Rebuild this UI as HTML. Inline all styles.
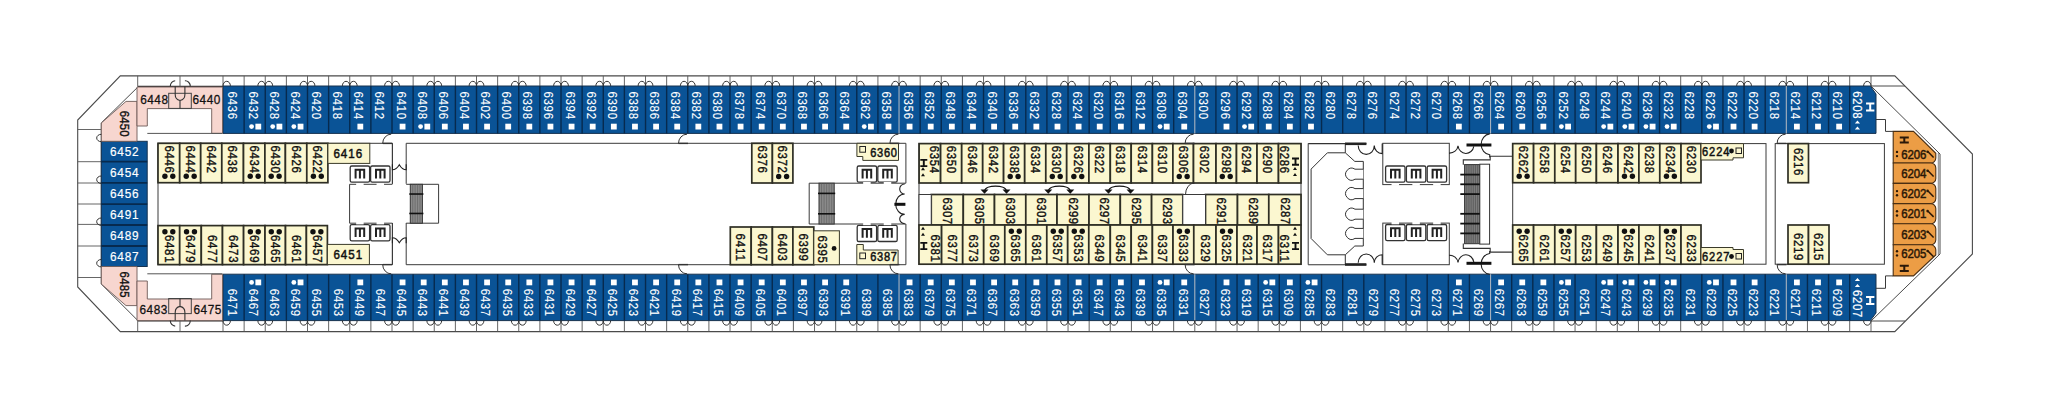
<!DOCTYPE html>
<html><head><meta charset="utf-8"><style>
html,body{margin:0;padding:0;background:#fff;}
svg{display:block;font-family:"Liberation Sans",sans-serif;}
</style></head><body>
<svg width="2048" height="409" viewBox="0 0 2048 409">
<rect width="2048" height="409" fill="#fff"/>
<polygon points="120.3,75.9 1894.8,75.9 1972.4,154 1972.4,254 1894.8,331.6 120.3,331.6 77.7,287 77.7,120" fill="none" stroke="#4a4a4a" stroke-width="1.1"/>
<line x1="223.00" y1="75.90" x2="223.00" y2="86.00" stroke="#555" stroke-width="0.9"/>
<line x1="244.13" y1="75.90" x2="244.13" y2="86.00" stroke="#555" stroke-width="0.9"/>
<line x1="265.25" y1="75.90" x2="265.25" y2="86.00" stroke="#555" stroke-width="0.9"/>
<line x1="286.38" y1="75.90" x2="286.38" y2="86.00" stroke="#555" stroke-width="0.9"/>
<line x1="307.50" y1="75.90" x2="307.50" y2="86.00" stroke="#555" stroke-width="0.9"/>
<line x1="328.63" y1="75.90" x2="328.63" y2="86.00" stroke="#555" stroke-width="0.9"/>
<line x1="349.76" y1="75.90" x2="349.76" y2="86.00" stroke="#555" stroke-width="0.9"/>
<line x1="370.88" y1="75.90" x2="370.88" y2="86.00" stroke="#555" stroke-width="0.9"/>
<line x1="392.01" y1="75.90" x2="392.01" y2="86.00" stroke="#555" stroke-width="0.9"/>
<line x1="413.13" y1="75.90" x2="413.13" y2="86.00" stroke="#555" stroke-width="0.9"/>
<line x1="434.26" y1="75.90" x2="434.26" y2="86.00" stroke="#555" stroke-width="0.9"/>
<line x1="455.39" y1="75.90" x2="455.39" y2="86.00" stroke="#555" stroke-width="0.9"/>
<line x1="476.51" y1="75.90" x2="476.51" y2="86.00" stroke="#555" stroke-width="0.9"/>
<line x1="497.64" y1="75.90" x2="497.64" y2="86.00" stroke="#555" stroke-width="0.9"/>
<line x1="518.76" y1="75.90" x2="518.76" y2="86.00" stroke="#555" stroke-width="0.9"/>
<line x1="539.89" y1="75.90" x2="539.89" y2="86.00" stroke="#555" stroke-width="0.9"/>
<line x1="561.02" y1="75.90" x2="561.02" y2="86.00" stroke="#555" stroke-width="0.9"/>
<line x1="582.14" y1="75.90" x2="582.14" y2="86.00" stroke="#555" stroke-width="0.9"/>
<line x1="603.27" y1="75.90" x2="603.27" y2="86.00" stroke="#555" stroke-width="0.9"/>
<line x1="624.39" y1="75.90" x2="624.39" y2="86.00" stroke="#555" stroke-width="0.9"/>
<line x1="645.52" y1="75.90" x2="645.52" y2="86.00" stroke="#555" stroke-width="0.9"/>
<line x1="666.65" y1="75.90" x2="666.65" y2="86.00" stroke="#555" stroke-width="0.9"/>
<line x1="687.77" y1="75.90" x2="687.77" y2="86.00" stroke="#555" stroke-width="0.9"/>
<line x1="708.90" y1="75.90" x2="708.90" y2="86.00" stroke="#555" stroke-width="0.9"/>
<line x1="730.02" y1="75.90" x2="730.02" y2="86.00" stroke="#555" stroke-width="0.9"/>
<line x1="751.15" y1="75.90" x2="751.15" y2="86.00" stroke="#555" stroke-width="0.9"/>
<line x1="772.28" y1="75.90" x2="772.28" y2="86.00" stroke="#555" stroke-width="0.9"/>
<line x1="793.40" y1="75.90" x2="793.40" y2="86.00" stroke="#555" stroke-width="0.9"/>
<line x1="814.53" y1="75.90" x2="814.53" y2="86.00" stroke="#555" stroke-width="0.9"/>
<line x1="835.65" y1="75.90" x2="835.65" y2="86.00" stroke="#555" stroke-width="0.9"/>
<line x1="856.78" y1="75.90" x2="856.78" y2="86.00" stroke="#555" stroke-width="0.9"/>
<line x1="877.91" y1="75.90" x2="877.91" y2="86.00" stroke="#555" stroke-width="0.9"/>
<line x1="899.03" y1="75.90" x2="899.03" y2="86.00" stroke="#555" stroke-width="0.9"/>
<line x1="920.16" y1="75.90" x2="920.16" y2="86.00" stroke="#555" stroke-width="0.9"/>
<line x1="941.28" y1="75.90" x2="941.28" y2="86.00" stroke="#555" stroke-width="0.9"/>
<line x1="962.41" y1="75.90" x2="962.41" y2="86.00" stroke="#555" stroke-width="0.9"/>
<line x1="983.54" y1="75.90" x2="983.54" y2="86.00" stroke="#555" stroke-width="0.9"/>
<line x1="1004.66" y1="75.90" x2="1004.66" y2="86.00" stroke="#555" stroke-width="0.9"/>
<line x1="1025.79" y1="75.90" x2="1025.79" y2="86.00" stroke="#555" stroke-width="0.9"/>
<line x1="1046.91" y1="75.90" x2="1046.91" y2="86.00" stroke="#555" stroke-width="0.9"/>
<line x1="1068.04" y1="75.90" x2="1068.04" y2="86.00" stroke="#555" stroke-width="0.9"/>
<line x1="1089.16" y1="75.90" x2="1089.16" y2="86.00" stroke="#555" stroke-width="0.9"/>
<line x1="1110.29" y1="75.90" x2="1110.29" y2="86.00" stroke="#555" stroke-width="0.9"/>
<line x1="1131.42" y1="75.90" x2="1131.42" y2="86.00" stroke="#555" stroke-width="0.9"/>
<line x1="1152.54" y1="75.90" x2="1152.54" y2="86.00" stroke="#555" stroke-width="0.9"/>
<line x1="1173.67" y1="75.90" x2="1173.67" y2="86.00" stroke="#555" stroke-width="0.9"/>
<line x1="1194.79" y1="75.90" x2="1194.79" y2="86.00" stroke="#555" stroke-width="0.9"/>
<line x1="1215.92" y1="75.90" x2="1215.92" y2="86.00" stroke="#555" stroke-width="0.9"/>
<line x1="1237.05" y1="75.90" x2="1237.05" y2="86.00" stroke="#555" stroke-width="0.9"/>
<line x1="1258.17" y1="75.90" x2="1258.17" y2="86.00" stroke="#555" stroke-width="0.9"/>
<line x1="1279.30" y1="75.90" x2="1279.30" y2="86.00" stroke="#555" stroke-width="0.9"/>
<line x1="1300.42" y1="75.90" x2="1300.42" y2="86.00" stroke="#555" stroke-width="0.9"/>
<line x1="1321.55" y1="75.90" x2="1321.55" y2="86.00" stroke="#555" stroke-width="0.9"/>
<line x1="1342.68" y1="75.90" x2="1342.68" y2="86.00" stroke="#555" stroke-width="0.9"/>
<line x1="1363.80" y1="75.90" x2="1363.80" y2="86.00" stroke="#555" stroke-width="0.9"/>
<line x1="1384.93" y1="75.90" x2="1384.93" y2="86.00" stroke="#555" stroke-width="0.9"/>
<line x1="1406.05" y1="75.90" x2="1406.05" y2="86.00" stroke="#555" stroke-width="0.9"/>
<line x1="1427.18" y1="75.90" x2="1427.18" y2="86.00" stroke="#555" stroke-width="0.9"/>
<line x1="1448.31" y1="75.90" x2="1448.31" y2="86.00" stroke="#555" stroke-width="0.9"/>
<line x1="1469.43" y1="75.90" x2="1469.43" y2="86.00" stroke="#555" stroke-width="0.9"/>
<line x1="1490.56" y1="75.90" x2="1490.56" y2="86.00" stroke="#555" stroke-width="0.9"/>
<line x1="1511.68" y1="75.90" x2="1511.68" y2="86.00" stroke="#555" stroke-width="0.9"/>
<line x1="1532.81" y1="75.90" x2="1532.81" y2="86.00" stroke="#555" stroke-width="0.9"/>
<line x1="1553.94" y1="75.90" x2="1553.94" y2="86.00" stroke="#555" stroke-width="0.9"/>
<line x1="1575.06" y1="75.90" x2="1575.06" y2="86.00" stroke="#555" stroke-width="0.9"/>
<line x1="1596.19" y1="75.90" x2="1596.19" y2="86.00" stroke="#555" stroke-width="0.9"/>
<line x1="1617.31" y1="75.90" x2="1617.31" y2="86.00" stroke="#555" stroke-width="0.9"/>
<line x1="1638.44" y1="75.90" x2="1638.44" y2="86.00" stroke="#555" stroke-width="0.9"/>
<line x1="1659.57" y1="75.90" x2="1659.57" y2="86.00" stroke="#555" stroke-width="0.9"/>
<line x1="1680.69" y1="75.90" x2="1680.69" y2="86.00" stroke="#555" stroke-width="0.9"/>
<line x1="1701.82" y1="75.90" x2="1701.82" y2="86.00" stroke="#555" stroke-width="0.9"/>
<line x1="1722.94" y1="75.90" x2="1722.94" y2="86.00" stroke="#555" stroke-width="0.9"/>
<line x1="1744.07" y1="75.90" x2="1744.07" y2="86.00" stroke="#555" stroke-width="0.9"/>
<line x1="1765.20" y1="75.90" x2="1765.20" y2="86.00" stroke="#555" stroke-width="0.9"/>
<line x1="1786.32" y1="75.90" x2="1786.32" y2="86.00" stroke="#555" stroke-width="0.9"/>
<line x1="1807.45" y1="75.90" x2="1807.45" y2="86.00" stroke="#555" stroke-width="0.9"/>
<line x1="1828.57" y1="75.90" x2="1828.57" y2="86.00" stroke="#555" stroke-width="0.9"/>
<line x1="1849.70" y1="75.90" x2="1849.70" y2="86.00" stroke="#555" stroke-width="0.9"/>
<line x1="1871.00" y1="75.90" x2="1871.00" y2="86.00" stroke="#555" stroke-width="0.9"/>
<line x1="1871.00" y1="321.00" x2="1871.00" y2="331.60" stroke="#555" stroke-width="0.9"/>
<line x1="223.00" y1="320.60" x2="223.00" y2="331.60" stroke="#555" stroke-width="0.9"/>
<line x1="244.13" y1="320.60" x2="244.13" y2="331.60" stroke="#555" stroke-width="0.9"/>
<line x1="265.25" y1="320.60" x2="265.25" y2="331.60" stroke="#555" stroke-width="0.9"/>
<line x1="286.38" y1="320.60" x2="286.38" y2="331.60" stroke="#555" stroke-width="0.9"/>
<line x1="307.50" y1="320.60" x2="307.50" y2="331.60" stroke="#555" stroke-width="0.9"/>
<line x1="328.63" y1="320.60" x2="328.63" y2="331.60" stroke="#555" stroke-width="0.9"/>
<line x1="349.76" y1="320.60" x2="349.76" y2="331.60" stroke="#555" stroke-width="0.9"/>
<line x1="370.88" y1="320.60" x2="370.88" y2="331.60" stroke="#555" stroke-width="0.9"/>
<line x1="392.01" y1="320.60" x2="392.01" y2="331.60" stroke="#555" stroke-width="0.9"/>
<line x1="413.13" y1="320.60" x2="413.13" y2="331.60" stroke="#555" stroke-width="0.9"/>
<line x1="434.26" y1="320.60" x2="434.26" y2="331.60" stroke="#555" stroke-width="0.9"/>
<line x1="455.39" y1="320.60" x2="455.39" y2="331.60" stroke="#555" stroke-width="0.9"/>
<line x1="476.51" y1="320.60" x2="476.51" y2="331.60" stroke="#555" stroke-width="0.9"/>
<line x1="497.64" y1="320.60" x2="497.64" y2="331.60" stroke="#555" stroke-width="0.9"/>
<line x1="518.76" y1="320.60" x2="518.76" y2="331.60" stroke="#555" stroke-width="0.9"/>
<line x1="539.89" y1="320.60" x2="539.89" y2="331.60" stroke="#555" stroke-width="0.9"/>
<line x1="561.02" y1="320.60" x2="561.02" y2="331.60" stroke="#555" stroke-width="0.9"/>
<line x1="582.14" y1="320.60" x2="582.14" y2="331.60" stroke="#555" stroke-width="0.9"/>
<line x1="603.27" y1="320.60" x2="603.27" y2="331.60" stroke="#555" stroke-width="0.9"/>
<line x1="624.39" y1="320.60" x2="624.39" y2="331.60" stroke="#555" stroke-width="0.9"/>
<line x1="645.52" y1="320.60" x2="645.52" y2="331.60" stroke="#555" stroke-width="0.9"/>
<line x1="666.65" y1="320.60" x2="666.65" y2="331.60" stroke="#555" stroke-width="0.9"/>
<line x1="687.77" y1="320.60" x2="687.77" y2="331.60" stroke="#555" stroke-width="0.9"/>
<line x1="708.90" y1="320.60" x2="708.90" y2="331.60" stroke="#555" stroke-width="0.9"/>
<line x1="730.02" y1="320.60" x2="730.02" y2="331.60" stroke="#555" stroke-width="0.9"/>
<line x1="751.15" y1="320.60" x2="751.15" y2="331.60" stroke="#555" stroke-width="0.9"/>
<line x1="772.28" y1="320.60" x2="772.28" y2="331.60" stroke="#555" stroke-width="0.9"/>
<line x1="793.40" y1="320.60" x2="793.40" y2="331.60" stroke="#555" stroke-width="0.9"/>
<line x1="814.53" y1="320.60" x2="814.53" y2="331.60" stroke="#555" stroke-width="0.9"/>
<line x1="835.65" y1="320.60" x2="835.65" y2="331.60" stroke="#555" stroke-width="0.9"/>
<line x1="856.78" y1="320.60" x2="856.78" y2="331.60" stroke="#555" stroke-width="0.9"/>
<line x1="877.91" y1="320.60" x2="877.91" y2="331.60" stroke="#555" stroke-width="0.9"/>
<line x1="899.03" y1="320.60" x2="899.03" y2="331.60" stroke="#555" stroke-width="0.9"/>
<line x1="920.16" y1="320.60" x2="920.16" y2="331.60" stroke="#555" stroke-width="0.9"/>
<line x1="941.28" y1="320.60" x2="941.28" y2="331.60" stroke="#555" stroke-width="0.9"/>
<line x1="962.41" y1="320.60" x2="962.41" y2="331.60" stroke="#555" stroke-width="0.9"/>
<line x1="983.54" y1="320.60" x2="983.54" y2="331.60" stroke="#555" stroke-width="0.9"/>
<line x1="1004.66" y1="320.60" x2="1004.66" y2="331.60" stroke="#555" stroke-width="0.9"/>
<line x1="1025.79" y1="320.60" x2="1025.79" y2="331.60" stroke="#555" stroke-width="0.9"/>
<line x1="1046.91" y1="320.60" x2="1046.91" y2="331.60" stroke="#555" stroke-width="0.9"/>
<line x1="1068.04" y1="320.60" x2="1068.04" y2="331.60" stroke="#555" stroke-width="0.9"/>
<line x1="1089.16" y1="320.60" x2="1089.16" y2="331.60" stroke="#555" stroke-width="0.9"/>
<line x1="1110.29" y1="320.60" x2="1110.29" y2="331.60" stroke="#555" stroke-width="0.9"/>
<line x1="1131.42" y1="320.60" x2="1131.42" y2="331.60" stroke="#555" stroke-width="0.9"/>
<line x1="1152.54" y1="320.60" x2="1152.54" y2="331.60" stroke="#555" stroke-width="0.9"/>
<line x1="1173.67" y1="320.60" x2="1173.67" y2="331.60" stroke="#555" stroke-width="0.9"/>
<line x1="1194.79" y1="320.60" x2="1194.79" y2="331.60" stroke="#555" stroke-width="0.9"/>
<line x1="1215.92" y1="320.60" x2="1215.92" y2="331.60" stroke="#555" stroke-width="0.9"/>
<line x1="1237.05" y1="320.60" x2="1237.05" y2="331.60" stroke="#555" stroke-width="0.9"/>
<line x1="1258.17" y1="320.60" x2="1258.17" y2="331.60" stroke="#555" stroke-width="0.9"/>
<line x1="1279.30" y1="320.60" x2="1279.30" y2="331.60" stroke="#555" stroke-width="0.9"/>
<line x1="1300.42" y1="320.60" x2="1300.42" y2="331.60" stroke="#555" stroke-width="0.9"/>
<line x1="1321.55" y1="320.60" x2="1321.55" y2="331.60" stroke="#555" stroke-width="0.9"/>
<line x1="1342.68" y1="320.60" x2="1342.68" y2="331.60" stroke="#555" stroke-width="0.9"/>
<line x1="1363.80" y1="320.60" x2="1363.80" y2="331.60" stroke="#555" stroke-width="0.9"/>
<line x1="1384.93" y1="320.60" x2="1384.93" y2="331.60" stroke="#555" stroke-width="0.9"/>
<line x1="1406.05" y1="320.60" x2="1406.05" y2="331.60" stroke="#555" stroke-width="0.9"/>
<line x1="1427.18" y1="320.60" x2="1427.18" y2="331.60" stroke="#555" stroke-width="0.9"/>
<line x1="1448.31" y1="320.60" x2="1448.31" y2="331.60" stroke="#555" stroke-width="0.9"/>
<line x1="1469.43" y1="320.60" x2="1469.43" y2="331.60" stroke="#555" stroke-width="0.9"/>
<line x1="1490.56" y1="320.60" x2="1490.56" y2="331.60" stroke="#555" stroke-width="0.9"/>
<line x1="1511.68" y1="320.60" x2="1511.68" y2="331.60" stroke="#555" stroke-width="0.9"/>
<line x1="1532.81" y1="320.60" x2="1532.81" y2="331.60" stroke="#555" stroke-width="0.9"/>
<line x1="1553.94" y1="320.60" x2="1553.94" y2="331.60" stroke="#555" stroke-width="0.9"/>
<line x1="1575.06" y1="320.60" x2="1575.06" y2="331.60" stroke="#555" stroke-width="0.9"/>
<line x1="1596.19" y1="320.60" x2="1596.19" y2="331.60" stroke="#555" stroke-width="0.9"/>
<line x1="1617.31" y1="320.60" x2="1617.31" y2="331.60" stroke="#555" stroke-width="0.9"/>
<line x1="1638.44" y1="320.60" x2="1638.44" y2="331.60" stroke="#555" stroke-width="0.9"/>
<line x1="1659.57" y1="320.60" x2="1659.57" y2="331.60" stroke="#555" stroke-width="0.9"/>
<line x1="1680.69" y1="320.60" x2="1680.69" y2="331.60" stroke="#555" stroke-width="0.9"/>
<line x1="1701.82" y1="320.60" x2="1701.82" y2="331.60" stroke="#555" stroke-width="0.9"/>
<line x1="1722.94" y1="320.60" x2="1722.94" y2="331.60" stroke="#555" stroke-width="0.9"/>
<line x1="1744.07" y1="320.60" x2="1744.07" y2="331.60" stroke="#555" stroke-width="0.9"/>
<line x1="1765.20" y1="320.60" x2="1765.20" y2="331.60" stroke="#555" stroke-width="0.9"/>
<line x1="1786.32" y1="320.60" x2="1786.32" y2="331.60" stroke="#555" stroke-width="0.9"/>
<line x1="1807.45" y1="320.60" x2="1807.45" y2="331.60" stroke="#555" stroke-width="0.9"/>
<line x1="1828.57" y1="320.60" x2="1828.57" y2="331.60" stroke="#555" stroke-width="0.9"/>
<line x1="1849.70" y1="320.60" x2="1849.70" y2="331.60" stroke="#555" stroke-width="0.9"/>
<polygon points="223.00,86.00 1870.40,86.00 1876.00,94.00 1876.00,133.40 223.00,133.40" fill="#0a5396" stroke="#17324f" stroke-width="1"/>
<polygon points="223.00,274.20 1876.00,274.20 1876.00,313.00 1870.40,320.60 223.00,320.60" fill="#0a5396" stroke="#17324f" stroke-width="1"/>
<line x1="244.13" y1="86.00" x2="244.13" y2="133.40" stroke="#072a4e" stroke-width="1.4"/>
<line x1="244.13" y1="274.20" x2="244.13" y2="320.60" stroke="#072a4e" stroke-width="1.4"/>
<line x1="265.25" y1="86.00" x2="265.25" y2="133.40" stroke="#072a4e" stroke-width="1.4"/>
<line x1="265.25" y1="274.20" x2="265.25" y2="320.60" stroke="#072a4e" stroke-width="1.4"/>
<line x1="286.38" y1="86.00" x2="286.38" y2="133.40" stroke="#072a4e" stroke-width="1.4"/>
<line x1="286.38" y1="274.20" x2="286.38" y2="320.60" stroke="#072a4e" stroke-width="1.4"/>
<line x1="307.50" y1="86.00" x2="307.50" y2="133.40" stroke="#072a4e" stroke-width="1.4"/>
<line x1="307.50" y1="274.20" x2="307.50" y2="320.60" stroke="#072a4e" stroke-width="1.4"/>
<line x1="328.63" y1="86.00" x2="328.63" y2="133.40" stroke="#072a4e" stroke-width="1.4"/>
<line x1="328.63" y1="274.20" x2="328.63" y2="320.60" stroke="#072a4e" stroke-width="1.4"/>
<line x1="349.76" y1="86.00" x2="349.76" y2="133.40" stroke="#072a4e" stroke-width="1.4"/>
<line x1="349.76" y1="274.20" x2="349.76" y2="320.60" stroke="#072a4e" stroke-width="1.4"/>
<line x1="370.88" y1="86.00" x2="370.88" y2="133.40" stroke="#072a4e" stroke-width="1.4"/>
<line x1="370.88" y1="274.20" x2="370.88" y2="320.60" stroke="#072a4e" stroke-width="1.4"/>
<line x1="392.01" y1="86.00" x2="392.01" y2="133.40" stroke="#072a4e" stroke-width="1.4"/>
<line x1="392.01" y1="274.20" x2="392.01" y2="320.60" stroke="#072a4e" stroke-width="1.4"/>
<line x1="413.13" y1="86.00" x2="413.13" y2="133.40" stroke="#072a4e" stroke-width="1.4"/>
<line x1="413.13" y1="274.20" x2="413.13" y2="320.60" stroke="#072a4e" stroke-width="1.4"/>
<line x1="434.26" y1="86.00" x2="434.26" y2="133.40" stroke="#072a4e" stroke-width="1.4"/>
<line x1="434.26" y1="274.20" x2="434.26" y2="320.60" stroke="#072a4e" stroke-width="1.4"/>
<line x1="455.39" y1="86.00" x2="455.39" y2="133.40" stroke="#072a4e" stroke-width="1.4"/>
<line x1="455.39" y1="274.20" x2="455.39" y2="320.60" stroke="#072a4e" stroke-width="1.4"/>
<line x1="476.51" y1="86.00" x2="476.51" y2="133.40" stroke="#072a4e" stroke-width="1.4"/>
<line x1="476.51" y1="274.20" x2="476.51" y2="320.60" stroke="#072a4e" stroke-width="1.4"/>
<line x1="497.64" y1="86.00" x2="497.64" y2="133.40" stroke="#072a4e" stroke-width="1.4"/>
<line x1="497.64" y1="274.20" x2="497.64" y2="320.60" stroke="#072a4e" stroke-width="1.4"/>
<line x1="518.76" y1="86.00" x2="518.76" y2="133.40" stroke="#072a4e" stroke-width="1.4"/>
<line x1="518.76" y1="274.20" x2="518.76" y2="320.60" stroke="#072a4e" stroke-width="1.4"/>
<line x1="539.89" y1="86.00" x2="539.89" y2="133.40" stroke="#072a4e" stroke-width="1.4"/>
<line x1="539.89" y1="274.20" x2="539.89" y2="320.60" stroke="#072a4e" stroke-width="1.4"/>
<line x1="561.02" y1="86.00" x2="561.02" y2="133.40" stroke="#072a4e" stroke-width="1.4"/>
<line x1="561.02" y1="274.20" x2="561.02" y2="320.60" stroke="#072a4e" stroke-width="1.4"/>
<line x1="582.14" y1="86.00" x2="582.14" y2="133.40" stroke="#072a4e" stroke-width="1.4"/>
<line x1="582.14" y1="274.20" x2="582.14" y2="320.60" stroke="#072a4e" stroke-width="1.4"/>
<line x1="603.27" y1="86.00" x2="603.27" y2="133.40" stroke="#072a4e" stroke-width="1.4"/>
<line x1="603.27" y1="274.20" x2="603.27" y2="320.60" stroke="#072a4e" stroke-width="1.4"/>
<line x1="624.39" y1="86.00" x2="624.39" y2="133.40" stroke="#072a4e" stroke-width="1.4"/>
<line x1="624.39" y1="274.20" x2="624.39" y2="320.60" stroke="#072a4e" stroke-width="1.4"/>
<line x1="645.52" y1="86.00" x2="645.52" y2="133.40" stroke="#072a4e" stroke-width="1.4"/>
<line x1="645.52" y1="274.20" x2="645.52" y2="320.60" stroke="#072a4e" stroke-width="1.4"/>
<line x1="666.65" y1="86.00" x2="666.65" y2="133.40" stroke="#072a4e" stroke-width="1.4"/>
<line x1="666.65" y1="274.20" x2="666.65" y2="320.60" stroke="#072a4e" stroke-width="1.4"/>
<line x1="687.77" y1="86.00" x2="687.77" y2="133.40" stroke="#072a4e" stroke-width="1.4"/>
<line x1="687.77" y1="274.20" x2="687.77" y2="320.60" stroke="#072a4e" stroke-width="1.4"/>
<line x1="708.90" y1="86.00" x2="708.90" y2="133.40" stroke="#072a4e" stroke-width="1.4"/>
<line x1="708.90" y1="274.20" x2="708.90" y2="320.60" stroke="#072a4e" stroke-width="1.4"/>
<line x1="730.02" y1="86.00" x2="730.02" y2="133.40" stroke="#072a4e" stroke-width="1.4"/>
<line x1="730.02" y1="274.20" x2="730.02" y2="320.60" stroke="#072a4e" stroke-width="1.4"/>
<line x1="751.15" y1="86.00" x2="751.15" y2="133.40" stroke="#072a4e" stroke-width="1.4"/>
<line x1="751.15" y1="274.20" x2="751.15" y2="320.60" stroke="#072a4e" stroke-width="1.4"/>
<line x1="772.28" y1="86.00" x2="772.28" y2="133.40" stroke="#072a4e" stroke-width="1.4"/>
<line x1="772.28" y1="274.20" x2="772.28" y2="320.60" stroke="#072a4e" stroke-width="1.4"/>
<line x1="793.40" y1="86.00" x2="793.40" y2="133.40" stroke="#072a4e" stroke-width="1.4"/>
<line x1="793.40" y1="274.20" x2="793.40" y2="320.60" stroke="#072a4e" stroke-width="1.4"/>
<line x1="814.53" y1="86.00" x2="814.53" y2="133.40" stroke="#072a4e" stroke-width="1.4"/>
<line x1="814.53" y1="274.20" x2="814.53" y2="320.60" stroke="#072a4e" stroke-width="1.4"/>
<line x1="835.65" y1="86.00" x2="835.65" y2="133.40" stroke="#072a4e" stroke-width="1.4"/>
<line x1="835.65" y1="274.20" x2="835.65" y2="320.60" stroke="#072a4e" stroke-width="1.4"/>
<line x1="856.78" y1="86.00" x2="856.78" y2="133.40" stroke="#072a4e" stroke-width="1.4"/>
<line x1="856.78" y1="274.20" x2="856.78" y2="320.60" stroke="#072a4e" stroke-width="1.4"/>
<line x1="877.91" y1="86.00" x2="877.91" y2="133.40" stroke="#072a4e" stroke-width="1.4"/>
<line x1="877.91" y1="274.20" x2="877.91" y2="320.60" stroke="#072a4e" stroke-width="1.4"/>
<line x1="899.03" y1="86.00" x2="899.03" y2="133.40" stroke="#a9b3bf" stroke-width="1.1"/>
<line x1="899.03" y1="274.20" x2="899.03" y2="320.60" stroke="#a9b3bf" stroke-width="1.1"/>
<line x1="920.16" y1="86.00" x2="920.16" y2="133.40" stroke="#072a4e" stroke-width="1.4"/>
<line x1="920.16" y1="274.20" x2="920.16" y2="320.60" stroke="#072a4e" stroke-width="1.4"/>
<line x1="941.28" y1="86.00" x2="941.28" y2="133.40" stroke="#072a4e" stroke-width="1.4"/>
<line x1="941.28" y1="274.20" x2="941.28" y2="320.60" stroke="#072a4e" stroke-width="1.4"/>
<line x1="962.41" y1="86.00" x2="962.41" y2="133.40" stroke="#072a4e" stroke-width="1.4"/>
<line x1="962.41" y1="274.20" x2="962.41" y2="320.60" stroke="#072a4e" stroke-width="1.4"/>
<line x1="983.54" y1="86.00" x2="983.54" y2="133.40" stroke="#072a4e" stroke-width="1.4"/>
<line x1="983.54" y1="274.20" x2="983.54" y2="320.60" stroke="#072a4e" stroke-width="1.4"/>
<line x1="1004.66" y1="86.00" x2="1004.66" y2="133.40" stroke="#072a4e" stroke-width="1.4"/>
<line x1="1004.66" y1="274.20" x2="1004.66" y2="320.60" stroke="#072a4e" stroke-width="1.4"/>
<line x1="1025.79" y1="86.00" x2="1025.79" y2="133.40" stroke="#072a4e" stroke-width="1.4"/>
<line x1="1025.79" y1="274.20" x2="1025.79" y2="320.60" stroke="#072a4e" stroke-width="1.4"/>
<line x1="1046.91" y1="86.00" x2="1046.91" y2="133.40" stroke="#072a4e" stroke-width="1.4"/>
<line x1="1046.91" y1="274.20" x2="1046.91" y2="320.60" stroke="#072a4e" stroke-width="1.4"/>
<line x1="1068.04" y1="86.00" x2="1068.04" y2="133.40" stroke="#072a4e" stroke-width="1.4"/>
<line x1="1068.04" y1="274.20" x2="1068.04" y2="320.60" stroke="#072a4e" stroke-width="1.4"/>
<line x1="1089.16" y1="86.00" x2="1089.16" y2="133.40" stroke="#072a4e" stroke-width="1.4"/>
<line x1="1089.16" y1="274.20" x2="1089.16" y2="320.60" stroke="#072a4e" stroke-width="1.4"/>
<line x1="1110.29" y1="86.00" x2="1110.29" y2="133.40" stroke="#072a4e" stroke-width="1.4"/>
<line x1="1110.29" y1="274.20" x2="1110.29" y2="320.60" stroke="#072a4e" stroke-width="1.4"/>
<line x1="1131.42" y1="86.00" x2="1131.42" y2="133.40" stroke="#072a4e" stroke-width="1.4"/>
<line x1="1131.42" y1="274.20" x2="1131.42" y2="320.60" stroke="#072a4e" stroke-width="1.4"/>
<line x1="1152.54" y1="86.00" x2="1152.54" y2="133.40" stroke="#072a4e" stroke-width="1.4"/>
<line x1="1152.54" y1="274.20" x2="1152.54" y2="320.60" stroke="#072a4e" stroke-width="1.4"/>
<line x1="1173.67" y1="86.00" x2="1173.67" y2="133.40" stroke="#072a4e" stroke-width="1.4"/>
<line x1="1173.67" y1="274.20" x2="1173.67" y2="320.60" stroke="#072a4e" stroke-width="1.4"/>
<line x1="1194.79" y1="86.00" x2="1194.79" y2="133.40" stroke="#a9b3bf" stroke-width="1.1"/>
<line x1="1194.79" y1="274.20" x2="1194.79" y2="320.60" stroke="#a9b3bf" stroke-width="1.1"/>
<line x1="1215.92" y1="86.00" x2="1215.92" y2="133.40" stroke="#072a4e" stroke-width="1.4"/>
<line x1="1215.92" y1="274.20" x2="1215.92" y2="320.60" stroke="#072a4e" stroke-width="1.4"/>
<line x1="1237.05" y1="86.00" x2="1237.05" y2="133.40" stroke="#072a4e" stroke-width="1.4"/>
<line x1="1237.05" y1="274.20" x2="1237.05" y2="320.60" stroke="#072a4e" stroke-width="1.4"/>
<line x1="1258.17" y1="86.00" x2="1258.17" y2="133.40" stroke="#072a4e" stroke-width="1.4"/>
<line x1="1258.17" y1="274.20" x2="1258.17" y2="320.60" stroke="#072a4e" stroke-width="1.4"/>
<line x1="1279.30" y1="86.00" x2="1279.30" y2="133.40" stroke="#072a4e" stroke-width="1.4"/>
<line x1="1279.30" y1="274.20" x2="1279.30" y2="320.60" stroke="#072a4e" stroke-width="1.4"/>
<line x1="1300.42" y1="86.00" x2="1300.42" y2="133.40" stroke="#072a4e" stroke-width="1.4"/>
<line x1="1300.42" y1="274.20" x2="1300.42" y2="320.60" stroke="#072a4e" stroke-width="1.4"/>
<line x1="1321.55" y1="86.00" x2="1321.55" y2="133.40" stroke="#072a4e" stroke-width="1.4"/>
<line x1="1321.55" y1="274.20" x2="1321.55" y2="320.60" stroke="#072a4e" stroke-width="1.4"/>
<line x1="1342.68" y1="86.00" x2="1342.68" y2="133.40" stroke="#072a4e" stroke-width="1.4"/>
<line x1="1342.68" y1="274.20" x2="1342.68" y2="320.60" stroke="#072a4e" stroke-width="1.4"/>
<line x1="1363.80" y1="86.00" x2="1363.80" y2="133.40" stroke="#072a4e" stroke-width="1.4"/>
<line x1="1363.80" y1="274.20" x2="1363.80" y2="320.60" stroke="#072a4e" stroke-width="1.4"/>
<line x1="1384.93" y1="86.00" x2="1384.93" y2="133.40" stroke="#072a4e" stroke-width="1.4"/>
<line x1="1384.93" y1="274.20" x2="1384.93" y2="320.60" stroke="#072a4e" stroke-width="1.4"/>
<line x1="1406.05" y1="86.00" x2="1406.05" y2="133.40" stroke="#072a4e" stroke-width="1.4"/>
<line x1="1406.05" y1="274.20" x2="1406.05" y2="320.60" stroke="#072a4e" stroke-width="1.4"/>
<line x1="1427.18" y1="86.00" x2="1427.18" y2="133.40" stroke="#072a4e" stroke-width="1.4"/>
<line x1="1427.18" y1="274.20" x2="1427.18" y2="320.60" stroke="#072a4e" stroke-width="1.4"/>
<line x1="1448.31" y1="86.00" x2="1448.31" y2="133.40" stroke="#072a4e" stroke-width="1.4"/>
<line x1="1448.31" y1="274.20" x2="1448.31" y2="320.60" stroke="#072a4e" stroke-width="1.4"/>
<line x1="1469.43" y1="86.00" x2="1469.43" y2="133.40" stroke="#072a4e" stroke-width="1.4"/>
<line x1="1469.43" y1="274.20" x2="1469.43" y2="320.60" stroke="#072a4e" stroke-width="1.4"/>
<line x1="1490.56" y1="86.00" x2="1490.56" y2="133.40" stroke="#a9b3bf" stroke-width="1.1"/>
<line x1="1490.56" y1="274.20" x2="1490.56" y2="320.60" stroke="#a9b3bf" stroke-width="1.1"/>
<line x1="1511.68" y1="86.00" x2="1511.68" y2="133.40" stroke="#072a4e" stroke-width="1.4"/>
<line x1="1511.68" y1="274.20" x2="1511.68" y2="320.60" stroke="#072a4e" stroke-width="1.4"/>
<line x1="1532.81" y1="86.00" x2="1532.81" y2="133.40" stroke="#072a4e" stroke-width="1.4"/>
<line x1="1532.81" y1="274.20" x2="1532.81" y2="320.60" stroke="#072a4e" stroke-width="1.4"/>
<line x1="1553.94" y1="86.00" x2="1553.94" y2="133.40" stroke="#072a4e" stroke-width="1.4"/>
<line x1="1553.94" y1="274.20" x2="1553.94" y2="320.60" stroke="#072a4e" stroke-width="1.4"/>
<line x1="1575.06" y1="86.00" x2="1575.06" y2="133.40" stroke="#072a4e" stroke-width="1.4"/>
<line x1="1575.06" y1="274.20" x2="1575.06" y2="320.60" stroke="#072a4e" stroke-width="1.4"/>
<line x1="1596.19" y1="86.00" x2="1596.19" y2="133.40" stroke="#072a4e" stroke-width="1.4"/>
<line x1="1596.19" y1="274.20" x2="1596.19" y2="320.60" stroke="#072a4e" stroke-width="1.4"/>
<line x1="1617.31" y1="86.00" x2="1617.31" y2="133.40" stroke="#072a4e" stroke-width="1.4"/>
<line x1="1617.31" y1="274.20" x2="1617.31" y2="320.60" stroke="#072a4e" stroke-width="1.4"/>
<line x1="1638.44" y1="86.00" x2="1638.44" y2="133.40" stroke="#072a4e" stroke-width="1.4"/>
<line x1="1638.44" y1="274.20" x2="1638.44" y2="320.60" stroke="#072a4e" stroke-width="1.4"/>
<line x1="1659.57" y1="86.00" x2="1659.57" y2="133.40" stroke="#072a4e" stroke-width="1.4"/>
<line x1="1659.57" y1="274.20" x2="1659.57" y2="320.60" stroke="#072a4e" stroke-width="1.4"/>
<line x1="1680.69" y1="86.00" x2="1680.69" y2="133.40" stroke="#072a4e" stroke-width="1.4"/>
<line x1="1680.69" y1="274.20" x2="1680.69" y2="320.60" stroke="#072a4e" stroke-width="1.4"/>
<line x1="1701.82" y1="86.00" x2="1701.82" y2="133.40" stroke="#072a4e" stroke-width="1.4"/>
<line x1="1701.82" y1="274.20" x2="1701.82" y2="320.60" stroke="#072a4e" stroke-width="1.4"/>
<line x1="1722.94" y1="86.00" x2="1722.94" y2="133.40" stroke="#072a4e" stroke-width="1.4"/>
<line x1="1722.94" y1="274.20" x2="1722.94" y2="320.60" stroke="#072a4e" stroke-width="1.4"/>
<line x1="1744.07" y1="86.00" x2="1744.07" y2="133.40" stroke="#072a4e" stroke-width="1.4"/>
<line x1="1744.07" y1="274.20" x2="1744.07" y2="320.60" stroke="#072a4e" stroke-width="1.4"/>
<line x1="1765.20" y1="86.00" x2="1765.20" y2="133.40" stroke="#072a4e" stroke-width="1.4"/>
<line x1="1765.20" y1="274.20" x2="1765.20" y2="320.60" stroke="#072a4e" stroke-width="1.4"/>
<line x1="1786.32" y1="86.00" x2="1786.32" y2="133.40" stroke="#a9b3bf" stroke-width="1.1"/>
<line x1="1786.32" y1="274.20" x2="1786.32" y2="320.60" stroke="#a9b3bf" stroke-width="1.1"/>
<line x1="1807.45" y1="86.00" x2="1807.45" y2="133.40" stroke="#072a4e" stroke-width="1.4"/>
<line x1="1807.45" y1="274.20" x2="1807.45" y2="320.60" stroke="#072a4e" stroke-width="1.4"/>
<line x1="1828.57" y1="86.00" x2="1828.57" y2="133.40" stroke="#072a4e" stroke-width="1.4"/>
<line x1="1828.57" y1="274.20" x2="1828.57" y2="320.60" stroke="#072a4e" stroke-width="1.4"/>
<line x1="1849.70" y1="86.00" x2="1849.70" y2="133.40" stroke="#072a4e" stroke-width="1.4"/>
<line x1="1849.70" y1="274.20" x2="1849.70" y2="320.60" stroke="#072a4e" stroke-width="1.4"/>
<text transform="translate(227.58,91.60) rotate(90) scale(0.88,1)" font-size="13.0" fill="#fff" stroke="#fff" stroke-width="0.1" textLength="31.14" lengthAdjust="spacing">6436</text>
<text transform="translate(248.71,91.60) rotate(90) scale(0.88,1)" font-size="13.0" fill="#fff" stroke="#fff" stroke-width="0.1" textLength="31.14" lengthAdjust="spacing">6432</text>
<circle cx="251.59" cy="126.60" r="2.4" fill="#fff"/>
<rect x="255.39" y="123.70" width="5.8" height="5.8" fill="#fff"/>
<text transform="translate(269.83,91.60) rotate(90) scale(0.88,1)" font-size="13.0" fill="#fff" stroke="#fff" stroke-width="0.1" textLength="31.14" lengthAdjust="spacing">6428</text>
<circle cx="272.71" cy="126.60" r="2.4" fill="#fff"/>
<rect x="276.51" y="123.70" width="5.8" height="5.8" fill="#fff"/>
<text transform="translate(290.96,91.60) rotate(90) scale(0.88,1)" font-size="13.0" fill="#fff" stroke="#fff" stroke-width="0.1" textLength="31.14" lengthAdjust="spacing">6424</text>
<circle cx="293.84" cy="126.60" r="2.4" fill="#fff"/>
<rect x="297.64" y="123.70" width="5.8" height="5.8" fill="#fff"/>
<text transform="translate(312.09,91.60) rotate(90) scale(0.88,1)" font-size="13.0" fill="#fff" stroke="#fff" stroke-width="0.1" textLength="31.14" lengthAdjust="spacing">6420</text>
<text transform="translate(333.21,91.60) rotate(90) scale(0.88,1)" font-size="13.0" fill="#fff" stroke="#fff" stroke-width="0.1" textLength="31.14" lengthAdjust="spacing">6418</text>
<text transform="translate(354.34,91.60) rotate(90) scale(0.88,1)" font-size="13.0" fill="#fff" stroke="#fff" stroke-width="0.1" textLength="31.14" lengthAdjust="spacing">6414</text>
<rect x="357.42" y="123.70" width="5.8" height="5.8" fill="#fff"/>
<text transform="translate(375.46,91.60) rotate(90) scale(0.88,1)" font-size="13.0" fill="#fff" stroke="#fff" stroke-width="0.1" textLength="31.14" lengthAdjust="spacing">6412</text>
<text transform="translate(396.59,91.60) rotate(90) scale(0.88,1)" font-size="13.0" fill="#fff" stroke="#fff" stroke-width="0.1" textLength="31.14" lengthAdjust="spacing">6410</text>
<rect x="399.67" y="123.70" width="5.8" height="5.8" fill="#fff"/>
<text transform="translate(417.72,91.60) rotate(90) scale(0.88,1)" font-size="13.0" fill="#fff" stroke="#fff" stroke-width="0.1" textLength="31.14" lengthAdjust="spacing">6408</text>
<circle cx="420.60" cy="126.60" r="2.4" fill="#fff"/>
<rect x="424.40" y="123.70" width="5.8" height="5.8" fill="#fff"/>
<text transform="translate(438.84,91.60) rotate(90) scale(0.88,1)" font-size="13.0" fill="#fff" stroke="#fff" stroke-width="0.1" textLength="31.14" lengthAdjust="spacing">6406</text>
<rect x="441.92" y="123.70" width="5.8" height="5.8" fill="#fff"/>
<text transform="translate(459.97,91.60) rotate(90) scale(0.88,1)" font-size="13.0" fill="#fff" stroke="#fff" stroke-width="0.1" textLength="31.14" lengthAdjust="spacing">6404</text>
<rect x="463.05" y="123.70" width="5.8" height="5.8" fill="#fff"/>
<text transform="translate(481.09,91.60) rotate(90) scale(0.88,1)" font-size="13.0" fill="#fff" stroke="#fff" stroke-width="0.1" textLength="31.14" lengthAdjust="spacing">6402</text>
<rect x="484.17" y="123.70" width="5.8" height="5.8" fill="#fff"/>
<text transform="translate(502.22,91.60) rotate(90) scale(0.88,1)" font-size="13.0" fill="#fff" stroke="#fff" stroke-width="0.1" textLength="31.14" lengthAdjust="spacing">6400</text>
<rect x="505.30" y="123.70" width="5.8" height="5.8" fill="#fff"/>
<text transform="translate(523.35,91.60) rotate(90) scale(0.88,1)" font-size="13.0" fill="#fff" stroke="#fff" stroke-width="0.1" textLength="31.14" lengthAdjust="spacing">6398</text>
<rect x="526.43" y="123.70" width="5.8" height="5.8" fill="#fff"/>
<text transform="translate(544.47,91.60) rotate(90) scale(0.88,1)" font-size="13.0" fill="#fff" stroke="#fff" stroke-width="0.1" textLength="31.14" lengthAdjust="spacing">6396</text>
<rect x="547.55" y="123.70" width="5.8" height="5.8" fill="#fff"/>
<text transform="translate(565.60,91.60) rotate(90) scale(0.88,1)" font-size="13.0" fill="#fff" stroke="#fff" stroke-width="0.1" textLength="31.14" lengthAdjust="spacing">6394</text>
<rect x="568.68" y="123.70" width="5.8" height="5.8" fill="#fff"/>
<text transform="translate(586.72,91.60) rotate(90) scale(0.88,1)" font-size="13.0" fill="#fff" stroke="#fff" stroke-width="0.1" textLength="31.14" lengthAdjust="spacing">6392</text>
<rect x="589.80" y="123.70" width="5.8" height="5.8" fill="#fff"/>
<text transform="translate(607.85,91.60) rotate(90) scale(0.88,1)" font-size="13.0" fill="#fff" stroke="#fff" stroke-width="0.1" textLength="31.14" lengthAdjust="spacing">6390</text>
<rect x="610.93" y="123.70" width="5.8" height="5.8" fill="#fff"/>
<text transform="translate(628.98,91.60) rotate(90) scale(0.88,1)" font-size="13.0" fill="#fff" stroke="#fff" stroke-width="0.1" textLength="31.14" lengthAdjust="spacing">6388</text>
<rect x="632.06" y="123.70" width="5.8" height="5.8" fill="#fff"/>
<text transform="translate(650.10,91.60) rotate(90) scale(0.88,1)" font-size="13.0" fill="#fff" stroke="#fff" stroke-width="0.1" textLength="31.14" lengthAdjust="spacing">6386</text>
<rect x="653.18" y="123.70" width="5.8" height="5.8" fill="#fff"/>
<text transform="translate(671.23,91.60) rotate(90) scale(0.88,1)" font-size="13.0" fill="#fff" stroke="#fff" stroke-width="0.1" textLength="31.14" lengthAdjust="spacing">6384</text>
<rect x="674.31" y="123.70" width="5.8" height="5.8" fill="#fff"/>
<text transform="translate(692.35,91.60) rotate(90) scale(0.88,1)" font-size="13.0" fill="#fff" stroke="#fff" stroke-width="0.1" textLength="31.14" lengthAdjust="spacing">6382</text>
<rect x="695.43" y="123.70" width="5.8" height="5.8" fill="#fff"/>
<text transform="translate(713.48,91.60) rotate(90) scale(0.88,1)" font-size="13.0" fill="#fff" stroke="#fff" stroke-width="0.1" textLength="31.14" lengthAdjust="spacing">6380</text>
<rect x="716.56" y="123.70" width="5.8" height="5.8" fill="#fff"/>
<text transform="translate(734.61,91.60) rotate(90) scale(0.88,1)" font-size="13.0" fill="#fff" stroke="#fff" stroke-width="0.1" textLength="31.14" lengthAdjust="spacing">6378</text>
<rect x="737.69" y="123.70" width="5.8" height="5.8" fill="#fff"/>
<text transform="translate(755.73,91.60) rotate(90) scale(0.88,1)" font-size="13.0" fill="#fff" stroke="#fff" stroke-width="0.1" textLength="31.14" lengthAdjust="spacing">6374</text>
<rect x="758.81" y="123.70" width="5.8" height="5.8" fill="#fff"/>
<text transform="translate(776.86,91.60) rotate(90) scale(0.88,1)" font-size="13.0" fill="#fff" stroke="#fff" stroke-width="0.1" textLength="31.14" lengthAdjust="spacing">6370</text>
<rect x="779.94" y="123.70" width="5.8" height="5.8" fill="#fff"/>
<text transform="translate(797.98,91.60) rotate(90) scale(0.88,1)" font-size="13.0" fill="#fff" stroke="#fff" stroke-width="0.1" textLength="31.14" lengthAdjust="spacing">6368</text>
<rect x="801.06" y="123.70" width="5.8" height="5.8" fill="#fff"/>
<text transform="translate(819.11,91.60) rotate(90) scale(0.88,1)" font-size="13.0" fill="#fff" stroke="#fff" stroke-width="0.1" textLength="31.14" lengthAdjust="spacing">6366</text>
<rect x="822.19" y="123.70" width="5.8" height="5.8" fill="#fff"/>
<text transform="translate(840.24,91.60) rotate(90) scale(0.88,1)" font-size="13.0" fill="#fff" stroke="#fff" stroke-width="0.1" textLength="31.14" lengthAdjust="spacing">6364</text>
<rect x="843.32" y="123.70" width="5.8" height="5.8" fill="#fff"/>
<text transform="translate(861.36,91.60) rotate(90) scale(0.88,1)" font-size="13.0" fill="#fff" stroke="#fff" stroke-width="0.1" textLength="31.14" lengthAdjust="spacing">6362</text>
<circle cx="864.24" cy="126.60" r="2.4" fill="#fff"/>
<rect x="868.04" y="123.70" width="5.8" height="5.8" fill="#fff"/>
<text transform="translate(882.49,91.60) rotate(90) scale(0.88,1)" font-size="13.0" fill="#fff" stroke="#fff" stroke-width="0.1" textLength="31.14" lengthAdjust="spacing">6358</text>
<rect x="885.57" y="123.70" width="5.8" height="5.8" fill="#fff"/>
<text transform="translate(903.61,91.60) rotate(90) scale(0.88,1)" font-size="13.0" fill="#fff" stroke="#fff" stroke-width="0.1" textLength="31.14" lengthAdjust="spacing">6356</text>
<rect x="906.69" y="123.70" width="5.8" height="5.8" fill="#fff"/>
<text transform="translate(924.74,91.60) rotate(90) scale(0.88,1)" font-size="13.0" fill="#fff" stroke="#fff" stroke-width="0.1" textLength="31.14" lengthAdjust="spacing">6352</text>
<rect x="927.82" y="123.70" width="5.8" height="5.8" fill="#fff"/>
<text transform="translate(945.87,91.60) rotate(90) scale(0.88,1)" font-size="13.0" fill="#fff" stroke="#fff" stroke-width="0.1" textLength="31.14" lengthAdjust="spacing">6348</text>
<rect x="948.95" y="123.70" width="5.8" height="5.8" fill="#fff"/>
<text transform="translate(966.99,91.60) rotate(90) scale(0.88,1)" font-size="13.0" fill="#fff" stroke="#fff" stroke-width="0.1" textLength="31.14" lengthAdjust="spacing">6344</text>
<rect x="970.07" y="123.70" width="5.8" height="5.8" fill="#fff"/>
<text transform="translate(988.12,91.60) rotate(90) scale(0.88,1)" font-size="13.0" fill="#fff" stroke="#fff" stroke-width="0.1" textLength="31.14" lengthAdjust="spacing">6340</text>
<rect x="991.20" y="123.70" width="5.8" height="5.8" fill="#fff"/>
<text transform="translate(1009.24,91.60) rotate(90) scale(0.88,1)" font-size="13.0" fill="#fff" stroke="#fff" stroke-width="0.1" textLength="31.14" lengthAdjust="spacing">6336</text>
<rect x="1012.32" y="123.70" width="5.8" height="5.8" fill="#fff"/>
<text transform="translate(1030.37,91.60) rotate(90) scale(0.88,1)" font-size="13.0" fill="#fff" stroke="#fff" stroke-width="0.1" textLength="31.14" lengthAdjust="spacing">6332</text>
<rect x="1033.45" y="123.70" width="5.8" height="5.8" fill="#fff"/>
<text transform="translate(1051.50,91.60) rotate(90) scale(0.88,1)" font-size="13.0" fill="#fff" stroke="#fff" stroke-width="0.1" textLength="31.14" lengthAdjust="spacing">6328</text>
<rect x="1054.58" y="123.70" width="5.8" height="5.8" fill="#fff"/>
<text transform="translate(1072.62,91.60) rotate(90) scale(0.88,1)" font-size="13.0" fill="#fff" stroke="#fff" stroke-width="0.1" textLength="31.14" lengthAdjust="spacing">6324</text>
<rect x="1075.70" y="123.70" width="5.8" height="5.8" fill="#fff"/>
<text transform="translate(1093.75,91.60) rotate(90) scale(0.88,1)" font-size="13.0" fill="#fff" stroke="#fff" stroke-width="0.1" textLength="31.14" lengthAdjust="spacing">6320</text>
<rect x="1096.83" y="123.70" width="5.8" height="5.8" fill="#fff"/>
<text transform="translate(1114.87,91.60) rotate(90) scale(0.88,1)" font-size="13.0" fill="#fff" stroke="#fff" stroke-width="0.1" textLength="31.14" lengthAdjust="spacing">6316</text>
<rect x="1117.95" y="123.70" width="5.8" height="5.8" fill="#fff"/>
<text transform="translate(1136.00,91.60) rotate(90) scale(0.88,1)" font-size="13.0" fill="#fff" stroke="#fff" stroke-width="0.1" textLength="31.14" lengthAdjust="spacing">6312</text>
<rect x="1139.08" y="123.70" width="5.8" height="5.8" fill="#fff"/>
<text transform="translate(1157.13,91.60) rotate(90) scale(0.88,1)" font-size="13.0" fill="#fff" stroke="#fff" stroke-width="0.1" textLength="31.14" lengthAdjust="spacing">6308</text>
<circle cx="1160.01" cy="126.60" r="2.4" fill="#fff"/>
<rect x="1163.81" y="123.70" width="5.8" height="5.8" fill="#fff"/>
<text transform="translate(1178.25,91.60) rotate(90) scale(0.88,1)" font-size="13.0" fill="#fff" stroke="#fff" stroke-width="0.1" textLength="31.14" lengthAdjust="spacing">6304</text>
<rect x="1181.33" y="123.70" width="5.8" height="5.8" fill="#fff"/>
<text transform="translate(1199.38,91.60) rotate(90) scale(0.88,1)" font-size="13.0" fill="#fff" stroke="#fff" stroke-width="0.1" textLength="31.14" lengthAdjust="spacing">6300</text>
<text transform="translate(1220.50,91.60) rotate(90) scale(0.88,1)" font-size="13.0" fill="#fff" stroke="#fff" stroke-width="0.1" textLength="31.14" lengthAdjust="spacing">6296</text>
<rect x="1223.58" y="123.70" width="5.8" height="5.8" fill="#fff"/>
<text transform="translate(1241.63,91.60) rotate(90) scale(0.88,1)" font-size="13.0" fill="#fff" stroke="#fff" stroke-width="0.1" textLength="31.14" lengthAdjust="spacing">6292</text>
<circle cx="1244.51" cy="126.60" r="2.4" fill="#fff"/>
<rect x="1248.31" y="123.70" width="5.8" height="5.8" fill="#fff"/>
<text transform="translate(1262.76,91.60) rotate(90) scale(0.88,1)" font-size="13.0" fill="#fff" stroke="#fff" stroke-width="0.1" textLength="31.14" lengthAdjust="spacing">6288</text>
<rect x="1265.84" y="123.70" width="5.8" height="5.8" fill="#fff"/>
<text transform="translate(1283.88,91.60) rotate(90) scale(0.88,1)" font-size="13.0" fill="#fff" stroke="#fff" stroke-width="0.1" textLength="31.14" lengthAdjust="spacing">6284</text>
<rect x="1286.96" y="123.70" width="5.8" height="5.8" fill="#fff"/>
<text transform="translate(1305.01,91.60) rotate(90) scale(0.88,1)" font-size="13.0" fill="#fff" stroke="#fff" stroke-width="0.1" textLength="31.14" lengthAdjust="spacing">6282</text>
<rect x="1308.09" y="123.70" width="5.8" height="5.8" fill="#fff"/>
<text transform="translate(1326.13,91.60) rotate(90) scale(0.88,1)" font-size="13.0" fill="#fff" stroke="#fff" stroke-width="0.1" textLength="31.14" lengthAdjust="spacing">6280</text>
<text transform="translate(1347.26,91.60) rotate(90) scale(0.88,1)" font-size="13.0" fill="#fff" stroke="#fff" stroke-width="0.1" textLength="31.14" lengthAdjust="spacing">6278</text>
<text transform="translate(1368.39,91.60) rotate(90) scale(0.88,1)" font-size="13.0" fill="#fff" stroke="#fff" stroke-width="0.1" textLength="31.14" lengthAdjust="spacing">6276</text>
<text transform="translate(1389.51,91.60) rotate(90) scale(0.88,1)" font-size="13.0" fill="#fff" stroke="#fff" stroke-width="0.1" textLength="31.14" lengthAdjust="spacing">6274</text>
<text transform="translate(1410.64,91.60) rotate(90) scale(0.88,1)" font-size="13.0" fill="#fff" stroke="#fff" stroke-width="0.1" textLength="31.14" lengthAdjust="spacing">6272</text>
<text transform="translate(1431.76,91.60) rotate(90) scale(0.88,1)" font-size="13.0" fill="#fff" stroke="#fff" stroke-width="0.1" textLength="31.14" lengthAdjust="spacing">6270</text>
<text transform="translate(1452.89,91.60) rotate(90) scale(0.88,1)" font-size="13.0" fill="#fff" stroke="#fff" stroke-width="0.1" textLength="31.14" lengthAdjust="spacing">6268</text>
<rect x="1455.97" y="123.70" width="5.8" height="5.8" fill="#fff"/>
<text transform="translate(1474.02,91.60) rotate(90) scale(0.88,1)" font-size="13.0" fill="#fff" stroke="#fff" stroke-width="0.1" textLength="31.14" lengthAdjust="spacing">6266</text>
<text transform="translate(1495.14,91.60) rotate(90) scale(0.88,1)" font-size="13.0" fill="#fff" stroke="#fff" stroke-width="0.1" textLength="31.14" lengthAdjust="spacing">6264</text>
<rect x="1498.22" y="123.70" width="5.8" height="5.8" fill="#fff"/>
<text transform="translate(1516.27,91.60) rotate(90) scale(0.88,1)" font-size="13.0" fill="#fff" stroke="#fff" stroke-width="0.1" textLength="31.14" lengthAdjust="spacing">6260</text>
<rect x="1519.35" y="123.70" width="5.8" height="5.8" fill="#fff"/>
<text transform="translate(1537.39,91.60) rotate(90) scale(0.88,1)" font-size="13.0" fill="#fff" stroke="#fff" stroke-width="0.1" textLength="31.14" lengthAdjust="spacing">6256</text>
<rect x="1540.47" y="123.70" width="5.8" height="5.8" fill="#fff"/>
<text transform="translate(1558.52,91.60) rotate(90) scale(0.88,1)" font-size="13.0" fill="#fff" stroke="#fff" stroke-width="0.1" textLength="31.14" lengthAdjust="spacing">6252</text>
<circle cx="1561.40" cy="126.60" r="2.4" fill="#fff"/>
<rect x="1565.20" y="123.70" width="5.8" height="5.8" fill="#fff"/>
<text transform="translate(1579.65,91.60) rotate(90) scale(0.88,1)" font-size="13.0" fill="#fff" stroke="#fff" stroke-width="0.1" textLength="31.14" lengthAdjust="spacing">6248</text>
<text transform="translate(1600.77,91.60) rotate(90) scale(0.88,1)" font-size="13.0" fill="#fff" stroke="#fff" stroke-width="0.1" textLength="31.14" lengthAdjust="spacing">6244</text>
<circle cx="1603.65" cy="126.60" r="2.4" fill="#fff"/>
<rect x="1607.45" y="123.70" width="5.8" height="5.8" fill="#fff"/>
<text transform="translate(1621.90,91.60) rotate(90) scale(0.88,1)" font-size="13.0" fill="#fff" stroke="#fff" stroke-width="0.1" textLength="31.14" lengthAdjust="spacing">6240</text>
<circle cx="1624.78" cy="126.60" r="2.4" fill="#fff"/>
<rect x="1628.58" y="123.70" width="5.8" height="5.8" fill="#fff"/>
<text transform="translate(1643.02,91.60) rotate(90) scale(0.88,1)" font-size="13.0" fill="#fff" stroke="#fff" stroke-width="0.1" textLength="31.14" lengthAdjust="spacing">6236</text>
<circle cx="1645.90" cy="126.60" r="2.4" fill="#fff"/>
<rect x="1649.70" y="123.70" width="5.8" height="5.8" fill="#fff"/>
<text transform="translate(1664.15,91.60) rotate(90) scale(0.88,1)" font-size="13.0" fill="#fff" stroke="#fff" stroke-width="0.1" textLength="31.14" lengthAdjust="spacing">6232</text>
<circle cx="1667.03" cy="126.60" r="2.4" fill="#fff"/>
<rect x="1670.83" y="123.70" width="5.8" height="5.8" fill="#fff"/>
<text transform="translate(1685.28,91.60) rotate(90) scale(0.88,1)" font-size="13.0" fill="#fff" stroke="#fff" stroke-width="0.1" textLength="31.14" lengthAdjust="spacing">6228</text>
<text transform="translate(1706.40,91.60) rotate(90) scale(0.88,1)" font-size="13.0" fill="#fff" stroke="#fff" stroke-width="0.1" textLength="31.14" lengthAdjust="spacing">6226</text>
<circle cx="1709.28" cy="126.60" r="2.4" fill="#fff"/>
<rect x="1713.08" y="123.70" width="5.8" height="5.8" fill="#fff"/>
<text transform="translate(1727.53,91.60) rotate(90) scale(0.88,1)" font-size="13.0" fill="#fff" stroke="#fff" stroke-width="0.1" textLength="31.14" lengthAdjust="spacing">6222</text>
<rect x="1730.61" y="123.70" width="5.8" height="5.8" fill="#fff"/>
<text transform="translate(1748.65,91.60) rotate(90) scale(0.88,1)" font-size="13.0" fill="#fff" stroke="#fff" stroke-width="0.1" textLength="31.14" lengthAdjust="spacing">6220</text>
<rect x="1751.73" y="123.70" width="5.8" height="5.8" fill="#fff"/>
<text transform="translate(1769.78,91.60) rotate(90) scale(0.88,1)" font-size="13.0" fill="#fff" stroke="#fff" stroke-width="0.1" textLength="31.14" lengthAdjust="spacing">6218</text>
<text transform="translate(1790.91,91.60) rotate(90) scale(0.88,1)" font-size="13.0" fill="#fff" stroke="#fff" stroke-width="0.1" textLength="31.14" lengthAdjust="spacing">6214</text>
<rect x="1793.99" y="123.70" width="5.8" height="5.8" fill="#fff"/>
<text transform="translate(1812.03,91.60) rotate(90) scale(0.88,1)" font-size="13.0" fill="#fff" stroke="#fff" stroke-width="0.1" textLength="31.14" lengthAdjust="spacing">6212</text>
<rect x="1815.11" y="123.70" width="5.8" height="5.8" fill="#fff"/>
<text transform="translate(1833.16,91.60) rotate(90) scale(0.88,1)" font-size="13.0" fill="#fff" stroke="#fff" stroke-width="0.1" textLength="31.14" lengthAdjust="spacing">6210</text>
<rect x="1836.24" y="123.70" width="5.8" height="5.8" fill="#fff"/>
<text transform="translate(1853.07,91.20) rotate(90) scale(0.88,1)" font-size="13.0" fill="#fff" stroke="#fff" stroke-width="0.2" textLength="31.14" lengthAdjust="spacing">6208</text>
<path d="M1866.05,103.40 h8.30 M1866.05,110.40 h8.30 M1870.20,103.40 v7.00" fill="none" stroke="#fff" stroke-width="2.0"/>
<path d="M1854.85,123.5 l2.6,-3 l2.6,3z M1854.85,129.5 l2.6,-3 l2.6,3z" fill="#fff"/>
<text transform="translate(227.88,288.80) rotate(90) scale(0.88,1)" font-size="13.0" fill="#fff" stroke="#fff" stroke-width="0.1" textLength="30.91" lengthAdjust="spacing">6471</text>
<text transform="translate(249.01,288.80) rotate(90) scale(0.88,1)" font-size="13.0" fill="#fff" stroke="#fff" stroke-width="0.1" textLength="30.91" lengthAdjust="spacing">6467</text>
<circle cx="251.59" cy="282.40" r="2.4" fill="#fff"/>
<rect x="255.39" y="279.50" width="5.8" height="5.8" fill="#fff"/>
<text transform="translate(270.13,288.80) rotate(90) scale(0.88,1)" font-size="13.0" fill="#fff" stroke="#fff" stroke-width="0.1" textLength="30.91" lengthAdjust="spacing">6463</text>
<text transform="translate(291.26,288.80) rotate(90) scale(0.88,1)" font-size="13.0" fill="#fff" stroke="#fff" stroke-width="0.1" textLength="30.91" lengthAdjust="spacing">6459</text>
<circle cx="293.84" cy="282.40" r="2.4" fill="#fff"/>
<rect x="297.64" y="279.50" width="5.8" height="5.8" fill="#fff"/>
<text transform="translate(312.39,288.80) rotate(90) scale(0.88,1)" font-size="13.0" fill="#fff" stroke="#fff" stroke-width="0.1" textLength="30.91" lengthAdjust="spacing">6455</text>
<text transform="translate(333.51,288.80) rotate(90) scale(0.88,1)" font-size="13.0" fill="#fff" stroke="#fff" stroke-width="0.1" textLength="30.91" lengthAdjust="spacing">6453</text>
<text transform="translate(354.64,288.80) rotate(90) scale(0.88,1)" font-size="13.0" fill="#fff" stroke="#fff" stroke-width="0.1" textLength="30.91" lengthAdjust="spacing">6449</text>
<rect x="357.42" y="279.50" width="5.8" height="5.8" fill="#fff"/>
<text transform="translate(375.76,288.80) rotate(90) scale(0.88,1)" font-size="13.0" fill="#fff" stroke="#fff" stroke-width="0.1" textLength="30.91" lengthAdjust="spacing">6447</text>
<text transform="translate(396.89,288.80) rotate(90) scale(0.88,1)" font-size="13.0" fill="#fff" stroke="#fff" stroke-width="0.1" textLength="30.91" lengthAdjust="spacing">6445</text>
<rect x="399.67" y="279.50" width="5.8" height="5.8" fill="#fff"/>
<text transform="translate(418.02,288.80) rotate(90) scale(0.88,1)" font-size="13.0" fill="#fff" stroke="#fff" stroke-width="0.1" textLength="30.91" lengthAdjust="spacing">6443</text>
<rect x="420.80" y="279.50" width="5.8" height="5.8" fill="#fff"/>
<text transform="translate(439.14,288.80) rotate(90) scale(0.88,1)" font-size="13.0" fill="#fff" stroke="#fff" stroke-width="0.1" textLength="30.91" lengthAdjust="spacing">6441</text>
<rect x="441.92" y="279.50" width="5.8" height="5.8" fill="#fff"/>
<text transform="translate(460.27,288.80) rotate(90) scale(0.88,1)" font-size="13.0" fill="#fff" stroke="#fff" stroke-width="0.1" textLength="30.91" lengthAdjust="spacing">6439</text>
<rect x="463.05" y="279.50" width="5.8" height="5.8" fill="#fff"/>
<text transform="translate(481.39,288.80) rotate(90) scale(0.88,1)" font-size="13.0" fill="#fff" stroke="#fff" stroke-width="0.1" textLength="30.91" lengthAdjust="spacing">6437</text>
<rect x="484.17" y="279.50" width="5.8" height="5.8" fill="#fff"/>
<text transform="translate(502.52,288.80) rotate(90) scale(0.88,1)" font-size="13.0" fill="#fff" stroke="#fff" stroke-width="0.1" textLength="30.91" lengthAdjust="spacing">6435</text>
<rect x="505.30" y="279.50" width="5.8" height="5.8" fill="#fff"/>
<text transform="translate(523.65,288.80) rotate(90) scale(0.88,1)" font-size="13.0" fill="#fff" stroke="#fff" stroke-width="0.1" textLength="30.91" lengthAdjust="spacing">6433</text>
<rect x="526.43" y="279.50" width="5.8" height="5.8" fill="#fff"/>
<text transform="translate(544.77,288.80) rotate(90) scale(0.88,1)" font-size="13.0" fill="#fff" stroke="#fff" stroke-width="0.1" textLength="30.91" lengthAdjust="spacing">6431</text>
<rect x="547.55" y="279.50" width="5.8" height="5.8" fill="#fff"/>
<text transform="translate(565.90,288.80) rotate(90) scale(0.88,1)" font-size="13.0" fill="#fff" stroke="#fff" stroke-width="0.1" textLength="30.91" lengthAdjust="spacing">6429</text>
<rect x="568.68" y="279.50" width="5.8" height="5.8" fill="#fff"/>
<text transform="translate(587.02,288.80) rotate(90) scale(0.88,1)" font-size="13.0" fill="#fff" stroke="#fff" stroke-width="0.1" textLength="30.91" lengthAdjust="spacing">6427</text>
<rect x="589.80" y="279.50" width="5.8" height="5.8" fill="#fff"/>
<text transform="translate(608.15,288.80) rotate(90) scale(0.88,1)" font-size="13.0" fill="#fff" stroke="#fff" stroke-width="0.1" textLength="30.91" lengthAdjust="spacing">6425</text>
<rect x="610.93" y="279.50" width="5.8" height="5.8" fill="#fff"/>
<text transform="translate(629.28,288.80) rotate(90) scale(0.88,1)" font-size="13.0" fill="#fff" stroke="#fff" stroke-width="0.1" textLength="30.91" lengthAdjust="spacing">6423</text>
<rect x="632.06" y="279.50" width="5.8" height="5.8" fill="#fff"/>
<text transform="translate(650.40,288.80) rotate(90) scale(0.88,1)" font-size="13.0" fill="#fff" stroke="#fff" stroke-width="0.1" textLength="30.91" lengthAdjust="spacing">6421</text>
<rect x="653.18" y="279.50" width="5.8" height="5.8" fill="#fff"/>
<text transform="translate(671.53,288.80) rotate(90) scale(0.88,1)" font-size="13.0" fill="#fff" stroke="#fff" stroke-width="0.1" textLength="30.91" lengthAdjust="spacing">6419</text>
<rect x="674.31" y="279.50" width="5.8" height="5.8" fill="#fff"/>
<text transform="translate(692.65,288.80) rotate(90) scale(0.88,1)" font-size="13.0" fill="#fff" stroke="#fff" stroke-width="0.1" textLength="30.91" lengthAdjust="spacing">6417</text>
<rect x="695.43" y="279.50" width="5.8" height="5.8" fill="#fff"/>
<text transform="translate(713.78,288.80) rotate(90) scale(0.88,1)" font-size="13.0" fill="#fff" stroke="#fff" stroke-width="0.1" textLength="30.91" lengthAdjust="spacing">6415</text>
<rect x="716.56" y="279.50" width="5.8" height="5.8" fill="#fff"/>
<text transform="translate(734.91,288.80) rotate(90) scale(0.88,1)" font-size="13.0" fill="#fff" stroke="#fff" stroke-width="0.1" textLength="30.91" lengthAdjust="spacing">6409</text>
<rect x="737.69" y="279.50" width="5.8" height="5.8" fill="#fff"/>
<text transform="translate(756.03,288.80) rotate(90) scale(0.88,1)" font-size="13.0" fill="#fff" stroke="#fff" stroke-width="0.1" textLength="30.91" lengthAdjust="spacing">6405</text>
<rect x="758.81" y="279.50" width="5.8" height="5.8" fill="#fff"/>
<text transform="translate(777.16,288.80) rotate(90) scale(0.88,1)" font-size="13.0" fill="#fff" stroke="#fff" stroke-width="0.1" textLength="30.91" lengthAdjust="spacing">6401</text>
<rect x="779.94" y="279.50" width="5.8" height="5.8" fill="#fff"/>
<text transform="translate(798.28,288.80) rotate(90) scale(0.88,1)" font-size="13.0" fill="#fff" stroke="#fff" stroke-width="0.1" textLength="30.91" lengthAdjust="spacing">6397</text>
<rect x="801.06" y="279.50" width="5.8" height="5.8" fill="#fff"/>
<text transform="translate(819.41,288.80) rotate(90) scale(0.88,1)" font-size="13.0" fill="#fff" stroke="#fff" stroke-width="0.1" textLength="30.91" lengthAdjust="spacing">6393</text>
<rect x="822.19" y="279.50" width="5.8" height="5.8" fill="#fff"/>
<text transform="translate(840.54,288.80) rotate(90) scale(0.88,1)" font-size="13.0" fill="#fff" stroke="#fff" stroke-width="0.1" textLength="30.91" lengthAdjust="spacing">6391</text>
<rect x="843.32" y="279.50" width="5.8" height="5.8" fill="#fff"/>
<text transform="translate(861.66,288.80) rotate(90) scale(0.88,1)" font-size="13.0" fill="#fff" stroke="#fff" stroke-width="0.1" textLength="30.91" lengthAdjust="spacing">6389</text>
<text transform="translate(882.79,288.80) rotate(90) scale(0.88,1)" font-size="13.0" fill="#fff" stroke="#fff" stroke-width="0.1" textLength="30.91" lengthAdjust="spacing">6385</text>
<text transform="translate(903.91,288.80) rotate(90) scale(0.88,1)" font-size="13.0" fill="#fff" stroke="#fff" stroke-width="0.1" textLength="30.91" lengthAdjust="spacing">6383</text>
<rect x="906.69" y="279.50" width="5.8" height="5.8" fill="#fff"/>
<text transform="translate(925.04,288.80) rotate(90) scale(0.88,1)" font-size="13.0" fill="#fff" stroke="#fff" stroke-width="0.1" textLength="30.91" lengthAdjust="spacing">6379</text>
<rect x="927.82" y="279.50" width="5.8" height="5.8" fill="#fff"/>
<text transform="translate(946.17,288.80) rotate(90) scale(0.88,1)" font-size="13.0" fill="#fff" stroke="#fff" stroke-width="0.1" textLength="30.91" lengthAdjust="spacing">6375</text>
<rect x="948.95" y="279.50" width="5.8" height="5.8" fill="#fff"/>
<text transform="translate(967.29,288.80) rotate(90) scale(0.88,1)" font-size="13.0" fill="#fff" stroke="#fff" stroke-width="0.1" textLength="30.91" lengthAdjust="spacing">6371</text>
<rect x="970.07" y="279.50" width="5.8" height="5.8" fill="#fff"/>
<text transform="translate(988.42,288.80) rotate(90) scale(0.88,1)" font-size="13.0" fill="#fff" stroke="#fff" stroke-width="0.1" textLength="30.91" lengthAdjust="spacing">6367</text>
<rect x="991.20" y="279.50" width="5.8" height="5.8" fill="#fff"/>
<text transform="translate(1009.54,288.80) rotate(90) scale(0.88,1)" font-size="13.0" fill="#fff" stroke="#fff" stroke-width="0.1" textLength="30.91" lengthAdjust="spacing">6363</text>
<rect x="1012.32" y="279.50" width="5.8" height="5.8" fill="#fff"/>
<text transform="translate(1030.67,288.80) rotate(90) scale(0.88,1)" font-size="13.0" fill="#fff" stroke="#fff" stroke-width="0.1" textLength="30.91" lengthAdjust="spacing">6359</text>
<rect x="1033.45" y="279.50" width="5.8" height="5.8" fill="#fff"/>
<text transform="translate(1051.80,288.80) rotate(90) scale(0.88,1)" font-size="13.0" fill="#fff" stroke="#fff" stroke-width="0.1" textLength="30.91" lengthAdjust="spacing">6355</text>
<rect x="1054.58" y="279.50" width="5.8" height="5.8" fill="#fff"/>
<text transform="translate(1072.92,288.80) rotate(90) scale(0.88,1)" font-size="13.0" fill="#fff" stroke="#fff" stroke-width="0.1" textLength="30.91" lengthAdjust="spacing">6351</text>
<rect x="1075.70" y="279.50" width="5.8" height="5.8" fill="#fff"/>
<text transform="translate(1094.05,288.80) rotate(90) scale(0.88,1)" font-size="13.0" fill="#fff" stroke="#fff" stroke-width="0.1" textLength="30.91" lengthAdjust="spacing">6347</text>
<rect x="1096.83" y="279.50" width="5.8" height="5.8" fill="#fff"/>
<text transform="translate(1115.17,288.80) rotate(90) scale(0.88,1)" font-size="13.0" fill="#fff" stroke="#fff" stroke-width="0.1" textLength="30.91" lengthAdjust="spacing">6343</text>
<rect x="1117.95" y="279.50" width="5.8" height="5.8" fill="#fff"/>
<text transform="translate(1136.30,288.80) rotate(90) scale(0.88,1)" font-size="13.0" fill="#fff" stroke="#fff" stroke-width="0.1" textLength="30.91" lengthAdjust="spacing">6339</text>
<rect x="1139.08" y="279.50" width="5.8" height="5.8" fill="#fff"/>
<text transform="translate(1157.43,288.80) rotate(90) scale(0.88,1)" font-size="13.0" fill="#fff" stroke="#fff" stroke-width="0.1" textLength="30.91" lengthAdjust="spacing">6335</text>
<circle cx="1160.01" cy="282.40" r="2.4" fill="#fff"/>
<rect x="1163.81" y="279.50" width="5.8" height="5.8" fill="#fff"/>
<text transform="translate(1178.55,288.80) rotate(90) scale(0.88,1)" font-size="13.0" fill="#fff" stroke="#fff" stroke-width="0.1" textLength="30.91" lengthAdjust="spacing">6331</text>
<rect x="1181.33" y="279.50" width="5.8" height="5.8" fill="#fff"/>
<text transform="translate(1199.68,288.80) rotate(90) scale(0.88,1)" font-size="13.0" fill="#fff" stroke="#fff" stroke-width="0.1" textLength="30.91" lengthAdjust="spacing">6327</text>
<text transform="translate(1220.80,288.80) rotate(90) scale(0.88,1)" font-size="13.0" fill="#fff" stroke="#fff" stroke-width="0.1" textLength="30.91" lengthAdjust="spacing">6323</text>
<rect x="1223.58" y="279.50" width="5.8" height="5.8" fill="#fff"/>
<text transform="translate(1241.93,288.80) rotate(90) scale(0.88,1)" font-size="13.0" fill="#fff" stroke="#fff" stroke-width="0.1" textLength="30.91" lengthAdjust="spacing">6319</text>
<rect x="1244.71" y="279.50" width="5.8" height="5.8" fill="#fff"/>
<text transform="translate(1263.06,288.80) rotate(90) scale(0.88,1)" font-size="13.0" fill="#fff" stroke="#fff" stroke-width="0.1" textLength="30.91" lengthAdjust="spacing">6315</text>
<circle cx="1265.64" cy="282.40" r="2.4" fill="#fff"/>
<rect x="1269.44" y="279.50" width="5.8" height="5.8" fill="#fff"/>
<text transform="translate(1284.18,288.80) rotate(90) scale(0.88,1)" font-size="13.0" fill="#fff" stroke="#fff" stroke-width="0.1" textLength="30.91" lengthAdjust="spacing">6309</text>
<rect x="1286.96" y="279.50" width="5.8" height="5.8" fill="#fff"/>
<text transform="translate(1305.31,288.80) rotate(90) scale(0.88,1)" font-size="13.0" fill="#fff" stroke="#fff" stroke-width="0.1" textLength="30.91" lengthAdjust="spacing">6285</text>
<circle cx="1307.89" cy="282.40" r="2.4" fill="#fff"/>
<rect x="1311.69" y="279.50" width="5.8" height="5.8" fill="#fff"/>
<text transform="translate(1326.43,288.80) rotate(90) scale(0.88,1)" font-size="13.0" fill="#fff" stroke="#fff" stroke-width="0.1" textLength="30.91" lengthAdjust="spacing">6283</text>
<text transform="translate(1347.56,288.80) rotate(90) scale(0.88,1)" font-size="13.0" fill="#fff" stroke="#fff" stroke-width="0.1" textLength="30.91" lengthAdjust="spacing">6281</text>
<text transform="translate(1368.69,288.80) rotate(90) scale(0.88,1)" font-size="13.0" fill="#fff" stroke="#fff" stroke-width="0.1" textLength="30.91" lengthAdjust="spacing">6279</text>
<text transform="translate(1389.81,288.80) rotate(90) scale(0.88,1)" font-size="13.0" fill="#fff" stroke="#fff" stroke-width="0.1" textLength="30.91" lengthAdjust="spacing">6277</text>
<text transform="translate(1410.94,288.80) rotate(90) scale(0.88,1)" font-size="13.0" fill="#fff" stroke="#fff" stroke-width="0.1" textLength="30.91" lengthAdjust="spacing">6275</text>
<text transform="translate(1432.06,288.80) rotate(90) scale(0.88,1)" font-size="13.0" fill="#fff" stroke="#fff" stroke-width="0.1" textLength="30.91" lengthAdjust="spacing">6273</text>
<text transform="translate(1453.19,288.80) rotate(90) scale(0.88,1)" font-size="13.0" fill="#fff" stroke="#fff" stroke-width="0.1" textLength="30.91" lengthAdjust="spacing">6271</text>
<rect x="1455.97" y="279.50" width="5.8" height="5.8" fill="#fff"/>
<text transform="translate(1474.32,288.80) rotate(90) scale(0.88,1)" font-size="13.0" fill="#fff" stroke="#fff" stroke-width="0.1" textLength="30.91" lengthAdjust="spacing">6269</text>
<text transform="translate(1495.44,288.80) rotate(90) scale(0.88,1)" font-size="13.0" fill="#fff" stroke="#fff" stroke-width="0.1" textLength="30.91" lengthAdjust="spacing">6267</text>
<rect x="1498.22" y="279.50" width="5.8" height="5.8" fill="#fff"/>
<text transform="translate(1516.57,288.80) rotate(90) scale(0.88,1)" font-size="13.0" fill="#fff" stroke="#fff" stroke-width="0.1" textLength="30.91" lengthAdjust="spacing">6263</text>
<rect x="1519.35" y="279.50" width="5.8" height="5.8" fill="#fff"/>
<text transform="translate(1537.69,288.80) rotate(90) scale(0.88,1)" font-size="13.0" fill="#fff" stroke="#fff" stroke-width="0.1" textLength="30.91" lengthAdjust="spacing">6259</text>
<rect x="1540.47" y="279.50" width="5.8" height="5.8" fill="#fff"/>
<text transform="translate(1558.82,288.80) rotate(90) scale(0.88,1)" font-size="13.0" fill="#fff" stroke="#fff" stroke-width="0.1" textLength="30.91" lengthAdjust="spacing">6255</text>
<circle cx="1561.40" cy="282.40" r="2.4" fill="#fff"/>
<rect x="1565.20" y="279.50" width="5.8" height="5.8" fill="#fff"/>
<text transform="translate(1579.95,288.80) rotate(90) scale(0.88,1)" font-size="13.0" fill="#fff" stroke="#fff" stroke-width="0.1" textLength="30.91" lengthAdjust="spacing">6251</text>
<text transform="translate(1601.07,288.80) rotate(90) scale(0.88,1)" font-size="13.0" fill="#fff" stroke="#fff" stroke-width="0.1" textLength="30.91" lengthAdjust="spacing">6247</text>
<circle cx="1603.65" cy="282.40" r="2.4" fill="#fff"/>
<rect x="1607.45" y="279.50" width="5.8" height="5.8" fill="#fff"/>
<text transform="translate(1622.20,288.80) rotate(90) scale(0.88,1)" font-size="13.0" fill="#fff" stroke="#fff" stroke-width="0.1" textLength="30.91" lengthAdjust="spacing">6243</text>
<circle cx="1624.78" cy="282.40" r="2.4" fill="#fff"/>
<rect x="1628.58" y="279.50" width="5.8" height="5.8" fill="#fff"/>
<text transform="translate(1643.32,288.80) rotate(90) scale(0.88,1)" font-size="13.0" fill="#fff" stroke="#fff" stroke-width="0.1" textLength="30.91" lengthAdjust="spacing">6239</text>
<circle cx="1645.90" cy="282.40" r="2.4" fill="#fff"/>
<rect x="1649.70" y="279.50" width="5.8" height="5.8" fill="#fff"/>
<text transform="translate(1664.45,288.80) rotate(90) scale(0.88,1)" font-size="13.0" fill="#fff" stroke="#fff" stroke-width="0.1" textLength="30.91" lengthAdjust="spacing">6235</text>
<circle cx="1667.03" cy="282.40" r="2.4" fill="#fff"/>
<rect x="1670.83" y="279.50" width="5.8" height="5.8" fill="#fff"/>
<text transform="translate(1685.58,288.80) rotate(90) scale(0.88,1)" font-size="13.0" fill="#fff" stroke="#fff" stroke-width="0.1" textLength="30.91" lengthAdjust="spacing">6231</text>
<text transform="translate(1706.70,288.80) rotate(90) scale(0.88,1)" font-size="13.0" fill="#fff" stroke="#fff" stroke-width="0.1" textLength="30.91" lengthAdjust="spacing">6229</text>
<circle cx="1709.28" cy="282.40" r="2.4" fill="#fff"/>
<rect x="1713.08" y="279.50" width="5.8" height="5.8" fill="#fff"/>
<text transform="translate(1727.83,288.80) rotate(90) scale(0.88,1)" font-size="13.0" fill="#fff" stroke="#fff" stroke-width="0.1" textLength="30.91" lengthAdjust="spacing">6225</text>
<rect x="1730.61" y="279.50" width="5.8" height="5.8" fill="#fff"/>
<text transform="translate(1748.95,288.80) rotate(90) scale(0.88,1)" font-size="13.0" fill="#fff" stroke="#fff" stroke-width="0.1" textLength="30.91" lengthAdjust="spacing">6223</text>
<rect x="1751.73" y="279.50" width="5.8" height="5.8" fill="#fff"/>
<text transform="translate(1770.08,288.80) rotate(90) scale(0.88,1)" font-size="13.0" fill="#fff" stroke="#fff" stroke-width="0.1" textLength="30.91" lengthAdjust="spacing">6221</text>
<text transform="translate(1791.21,288.80) rotate(90) scale(0.88,1)" font-size="13.0" fill="#fff" stroke="#fff" stroke-width="0.1" textLength="30.91" lengthAdjust="spacing">6217</text>
<rect x="1793.99" y="279.50" width="5.8" height="5.8" fill="#fff"/>
<text transform="translate(1812.33,288.80) rotate(90) scale(0.88,1)" font-size="13.0" fill="#fff" stroke="#fff" stroke-width="0.1" textLength="30.91" lengthAdjust="spacing">6211</text>
<rect x="1815.11" y="279.50" width="5.8" height="5.8" fill="#fff"/>
<text transform="translate(1833.46,288.80) rotate(90) scale(0.88,1)" font-size="13.0" fill="#fff" stroke="#fff" stroke-width="0.1" textLength="30.91" lengthAdjust="spacing">6209</text>
<rect x="1836.24" y="279.50" width="5.8" height="5.8" fill="#fff"/>
<text transform="translate(1853.07,290.00) rotate(90) scale(0.88,1)" font-size="13.0" fill="#fff" stroke="#fff" stroke-width="0.2" textLength="31.14" lengthAdjust="spacing">6207</text>
<path d="M1866.05,297.00 h8.30 M1866.05,304.00 h8.30 M1870.20,297.00 v7.00" fill="none" stroke="#fff" stroke-width="2.0"/>
<path d="M1854.85,281 l2.6,-3 l2.6,3z M1854.85,287 l2.6,-3 l2.6,3z" fill="#fff"/>
<polyline points="137.90,87.00 101.30,122.90 101.30,284.00 137.90,320.60" fill="none" stroke="#4a4a4a" stroke-width="1"/>
<polyline points="1871.00,86.00 1940.00,154.00 1940.00,254.00 1871.00,321.00" fill="none" stroke="#4a4a4a" stroke-width="1"/>
<line x1="1871.00" y1="86.00" x2="1905.00" y2="86.00" stroke="#4a4a4a" stroke-width="1"/>
<line x1="1871.00" y1="321.00" x2="1905.00" y2="321.00" stroke="#4a4a4a" stroke-width="1"/>
<line x1="137.90" y1="86.40" x2="223.00" y2="86.40" stroke="#333" stroke-width="1.2"/>
<line x1="137.90" y1="320.80" x2="223.00" y2="320.80" stroke="#333" stroke-width="1.2"/>
<line x1="77.70" y1="129.50" x2="101.30" y2="129.50" stroke="#555" stroke-width="0.9"/>
<line x1="77.70" y1="161.70" x2="101.30" y2="161.70" stroke="#555" stroke-width="0.9"/>
<line x1="77.70" y1="183.00" x2="101.30" y2="183.00" stroke="#555" stroke-width="0.9"/>
<line x1="77.70" y1="204.00" x2="101.30" y2="204.00" stroke="#555" stroke-width="0.9"/>
<line x1="77.70" y1="224.40" x2="101.30" y2="224.40" stroke="#555" stroke-width="0.9"/>
<line x1="77.70" y1="246.00" x2="101.30" y2="246.00" stroke="#555" stroke-width="0.9"/>
<line x1="77.70" y1="277.50" x2="101.30" y2="277.50" stroke="#555" stroke-width="0.9"/>
<rect x="101.30" y="141.30" width="45.90" height="125.20" fill="#0a5396" stroke="#17324f" stroke-width="1.0"/>
<text transform="translate(110.00,156.32) scale(0.88,1)" font-size="13.4" fill="#fff" stroke="#fff" stroke-width="0.2" textLength="32.50" lengthAdjust="spacing" text-anchor="start">6452</text>
<line x1="101.30" y1="161.70" x2="147.20" y2="161.70" stroke="#072a4e" stroke-width="1.8"/>
<text transform="translate(110.00,177.07) scale(0.88,1)" font-size="13.4" fill="#fff" stroke="#fff" stroke-width="0.2" textLength="32.50" lengthAdjust="spacing" text-anchor="start">6454</text>
<line x1="101.30" y1="182.80" x2="147.20" y2="182.80" stroke="#072a4e" stroke-width="1.8"/>
<text transform="translate(110.00,198.32) scale(0.88,1)" font-size="13.4" fill="#fff" stroke="#fff" stroke-width="0.2" textLength="32.50" lengthAdjust="spacing" text-anchor="start">6456</text>
<line x1="101.30" y1="204.20" x2="147.20" y2="204.20" stroke="#072a4e" stroke-width="1.8"/>
<text transform="translate(110.00,219.42) scale(0.88,1)" font-size="13.4" fill="#fff" stroke="#fff" stroke-width="0.2" textLength="32.50" lengthAdjust="spacing" text-anchor="start">6491</text>
<line x1="101.30" y1="225.00" x2="147.20" y2="225.00" stroke="#072a4e" stroke-width="1.8"/>
<text transform="translate(110.00,240.32) scale(0.88,1)" font-size="13.4" fill="#fff" stroke="#fff" stroke-width="0.2" textLength="32.50" lengthAdjust="spacing" text-anchor="start">6489</text>
<line x1="101.30" y1="246.00" x2="147.20" y2="246.00" stroke="#072a4e" stroke-width="1.8"/>
<text transform="translate(110.00,261.07) scale(0.88,1)" font-size="13.4" fill="#fff" stroke="#fff" stroke-width="0.2" textLength="32.50" lengthAdjust="spacing" text-anchor="start">6487</text>
<polygon points="101.30,123.00 126.00,101.40 137.00,101.40 137.00,141.30 101.30,141.30" fill="#f7d6cf" stroke="#6d5a57" stroke-width="0.9"/>
<polygon points="137.00,87.00 222.50,87.00 222.50,133.40 211.70,133.40 211.70,108.60 147.30,108.60 147.30,126.00 137.00,126.00" fill="#f7d6cf" stroke="#6d5a57" stroke-width="0.9"/>
<polygon points="101.30,284.00 126.00,305.60 137.00,305.60 137.00,266.50 101.30,266.50" fill="#f7d6cf" stroke="#6d5a57" stroke-width="0.9"/>
<polygon points="137.00,320.60 222.50,320.60 222.50,274.20 211.70,274.20 211.70,299.00 147.30,299.00 147.30,281.00 137.00,281.00" fill="#f7d6cf" stroke="#6d5a57" stroke-width="0.9"/>
<rect x="168.70" y="93.30" width="22.60" height="15.10" fill="none" stroke="#444" stroke-width="1"/>
<rect x="168.70" y="298.50" width="22.60" height="15.10" fill="none" stroke="#444" stroke-width="1"/>
<text transform="translate(140.20,103.92) scale(0.88,1)" font-size="13.4" fill="#111" stroke="#111" stroke-width="0.3" textLength="31.59" lengthAdjust="spacing" text-anchor="start">6448</text>
<text transform="translate(192.50,103.92) scale(0.88,1)" font-size="13.4" fill="#111" stroke="#111" stroke-width="0.3" textLength="31.59" lengthAdjust="spacing" text-anchor="start">6440</text>
<text transform="translate(139.50,313.62) scale(0.88,1)" font-size="13.4" fill="#111" stroke="#111" stroke-width="0.3" textLength="31.59" lengthAdjust="spacing" text-anchor="start">6483</text>
<text transform="translate(193.50,313.62) scale(0.88,1)" font-size="13.4" fill="#111" stroke="#111" stroke-width="0.3" textLength="31.59" lengthAdjust="spacing" text-anchor="start">6475</text>
<text transform="translate(120.12,110.70) rotate(90) scale(0.88,1)" font-size="13.0" fill="#111" stroke="#111" stroke-width="0.4" textLength="29.55" lengthAdjust="spacing">6450</text>
<text transform="translate(120.12,271.60) rotate(90) scale(0.88,1)" font-size="13.0" fill="#111" stroke="#111" stroke-width="0.4" textLength="29.55" lengthAdjust="spacing">6485</text>
<polyline points="392.40,183.80 392.40,143.30 158.00,143.30 158.00,264.60 392.40,264.60 392.40,223.00" fill="none" stroke="#3a3a3a" stroke-width="1.0"/>
<rect x="158.00" y="143.30" width="21.70" height="39.40" fill="#fbf7d0" stroke="#2e2e24" stroke-width="1.7"/>
<rect x="179.70" y="143.30" width="21.00" height="39.40" fill="#fbf7d0" stroke="#2e2e24" stroke-width="1.7"/>
<rect x="200.70" y="143.30" width="21.10" height="39.40" fill="#fbf7d0" stroke="#2e2e24" stroke-width="1.7"/>
<rect x="221.80" y="143.30" width="21.70" height="39.40" fill="#fbf7d0" stroke="#2e2e24" stroke-width="1.7"/>
<rect x="243.50" y="143.30" width="21.40" height="39.40" fill="#fbf7d0" stroke="#2e2e24" stroke-width="1.7"/>
<rect x="264.90" y="143.30" width="20.50" height="39.40" fill="#fbf7d0" stroke="#2e2e24" stroke-width="1.7"/>
<rect x="285.40" y="143.30" width="21.40" height="39.40" fill="#fbf7d0" stroke="#2e2e24" stroke-width="1.7"/>
<rect x="306.80" y="143.30" width="21.10" height="39.40" fill="#fbf7d0" stroke="#2e2e24" stroke-width="1.7"/>
<text transform="translate(164.57,145.50) rotate(90) scale(0.88,1)" font-size="13.0" fill="#111" stroke="#111" stroke-width="0.4" textLength="31.14" lengthAdjust="spacing">6446</text>
<circle cx="164.90" cy="176.20" r="2.7" fill="#111"/>
<circle cx="172.80" cy="176.20" r="2.7" fill="#111"/>
<text transform="translate(185.92,145.50) rotate(90) scale(0.88,1)" font-size="13.0" fill="#111" stroke="#111" stroke-width="0.4" textLength="31.14" lengthAdjust="spacing">6444</text>
<circle cx="186.25" cy="176.20" r="2.7" fill="#111"/>
<circle cx="194.15" cy="176.20" r="2.7" fill="#111"/>
<text transform="translate(206.97,145.50) rotate(90) scale(0.88,1)" font-size="13.0" fill="#111" stroke="#111" stroke-width="0.4" textLength="31.14" lengthAdjust="spacing">6442</text>
<text transform="translate(228.37,145.50) rotate(90) scale(0.88,1)" font-size="13.0" fill="#111" stroke="#111" stroke-width="0.4" textLength="31.14" lengthAdjust="spacing">6438</text>
<text transform="translate(249.92,145.50) rotate(90) scale(0.88,1)" font-size="13.0" fill="#111" stroke="#111" stroke-width="0.4" textLength="31.14" lengthAdjust="spacing">6434</text>
<circle cx="250.25" cy="176.20" r="2.7" fill="#111"/>
<circle cx="258.15" cy="176.20" r="2.7" fill="#111"/>
<text transform="translate(270.87,145.50) rotate(90) scale(0.88,1)" font-size="13.0" fill="#111" stroke="#111" stroke-width="0.4" textLength="31.14" lengthAdjust="spacing">6430</text>
<circle cx="271.20" cy="176.20" r="2.7" fill="#111"/>
<circle cx="279.10" cy="176.20" r="2.7" fill="#111"/>
<text transform="translate(291.82,145.50) rotate(90) scale(0.88,1)" font-size="13.0" fill="#111" stroke="#111" stroke-width="0.4" textLength="31.14" lengthAdjust="spacing">6426</text>
<text transform="translate(313.07,145.50) rotate(90) scale(0.88,1)" font-size="13.0" fill="#111" stroke="#111" stroke-width="0.4" textLength="31.14" lengthAdjust="spacing">6422</text>
<circle cx="313.40" cy="176.20" r="2.7" fill="#111"/>
<circle cx="321.30" cy="176.20" r="2.7" fill="#111"/>
<rect x="327.90" y="143.30" width="41.90" height="20.10" fill="#fbf7d0" stroke="#3a3a2a" stroke-width="1.0"/>
<text transform="translate(333.40,158.25) scale(0.88,1)" font-size="13.2" fill="#111" stroke="#111" stroke-width="0.5" textLength="32.73" lengthAdjust="spacing" text-anchor="start">6416</text>
<rect x="158.00" y="225.60" width="21.70" height="39.00" fill="#fbf7d0" stroke="#2e2e24" stroke-width="1.7"/>
<rect x="179.70" y="225.60" width="21.60" height="39.00" fill="#fbf7d0" stroke="#2e2e24" stroke-width="1.7"/>
<rect x="201.30" y="225.60" width="21.20" height="39.00" fill="#fbf7d0" stroke="#2e2e24" stroke-width="1.7"/>
<rect x="222.50" y="225.60" width="21.10" height="39.00" fill="#fbf7d0" stroke="#2e2e24" stroke-width="1.7"/>
<rect x="243.60" y="225.60" width="21.40" height="39.00" fill="#fbf7d0" stroke="#2e2e24" stroke-width="1.7"/>
<rect x="265.00" y="225.60" width="20.50" height="39.00" fill="#fbf7d0" stroke="#2e2e24" stroke-width="1.7"/>
<rect x="285.50" y="225.60" width="20.90" height="39.00" fill="#fbf7d0" stroke="#2e2e24" stroke-width="1.7"/>
<rect x="306.40" y="225.60" width="21.00" height="39.00" fill="#fbf7d0" stroke="#2e2e24" stroke-width="1.7"/>
<text transform="translate(164.57,235.10) rotate(90) scale(0.88,1)" font-size="13.0" fill="#111" stroke="#111" stroke-width="0.4" textLength="31.14" lengthAdjust="spacing">6481</text>
<circle cx="164.90" cy="231.80" r="2.7" fill="#111"/>
<circle cx="172.80" cy="231.80" r="2.7" fill="#111"/>
<text transform="translate(186.22,235.10) rotate(90) scale(0.88,1)" font-size="13.0" fill="#111" stroke="#111" stroke-width="0.4" textLength="31.14" lengthAdjust="spacing">6479</text>
<circle cx="186.55" cy="231.80" r="2.7" fill="#111"/>
<circle cx="194.45" cy="231.80" r="2.7" fill="#111"/>
<text transform="translate(207.62,235.10) rotate(90) scale(0.88,1)" font-size="13.0" fill="#111" stroke="#111" stroke-width="0.4" textLength="31.14" lengthAdjust="spacing">6477</text>
<text transform="translate(228.77,235.10) rotate(90) scale(0.88,1)" font-size="13.0" fill="#111" stroke="#111" stroke-width="0.4" textLength="31.14" lengthAdjust="spacing">6473</text>
<text transform="translate(250.02,235.10) rotate(90) scale(0.88,1)" font-size="13.0" fill="#111" stroke="#111" stroke-width="0.4" textLength="31.14" lengthAdjust="spacing">6469</text>
<circle cx="250.35" cy="231.80" r="2.7" fill="#111"/>
<circle cx="258.25" cy="231.80" r="2.7" fill="#111"/>
<text transform="translate(270.97,235.10) rotate(90) scale(0.88,1)" font-size="13.0" fill="#111" stroke="#111" stroke-width="0.4" textLength="31.14" lengthAdjust="spacing">6465</text>
<circle cx="271.30" cy="231.80" r="2.7" fill="#111"/>
<circle cx="279.20" cy="231.80" r="2.7" fill="#111"/>
<text transform="translate(291.67,235.10) rotate(90) scale(0.88,1)" font-size="13.0" fill="#111" stroke="#111" stroke-width="0.4" textLength="31.14" lengthAdjust="spacing">6461</text>
<text transform="translate(312.62,235.10) rotate(90) scale(0.88,1)" font-size="13.0" fill="#111" stroke="#111" stroke-width="0.4" textLength="31.14" lengthAdjust="spacing">6457</text>
<circle cx="312.95" cy="231.80" r="2.7" fill="#111"/>
<circle cx="320.85" cy="231.80" r="2.7" fill="#111"/>
<rect x="327.40" y="244.40" width="42.00" height="20.20" fill="#fbf7d0" stroke="#3a3a2a" stroke-width="1.0"/>
<text transform="translate(333.40,259.25) scale(0.88,1)" font-size="13.2" fill="#111" stroke="#111" stroke-width="0.5" textLength="32.73" lengthAdjust="spacing" text-anchor="start">6451</text>
<line x1="392.40" y1="143.30" x2="392.40" y2="183.80" stroke="#3a3a3a" stroke-width="1.0"/>
<line x1="392.40" y1="223.00" x2="392.40" y2="264.60" stroke="#3a3a3a" stroke-width="1.0"/>
<rect x="350.20" y="166.00" width="19.40" height="16.20" rx="1.6" fill="#fff" stroke="#333" stroke-width="1.3"/>
<path d="M355.60,178.40 V169.80 H364.20 V178.40 M359.90,169.80 V178.40" fill="none" stroke="#222" stroke-width="2"/>
<rect x="370.60" y="166.00" width="19.40" height="16.20" rx="1.6" fill="#fff" stroke="#333" stroke-width="1.3"/>
<path d="M376.00,178.40 V169.80 H384.60 V178.40 M380.30,169.80 V178.40" fill="none" stroke="#222" stroke-width="2"/>
<rect x="350.20" y="224.60" width="19.40" height="16.20" rx="1.6" fill="#fff" stroke="#333" stroke-width="1.3"/>
<path d="M355.60,237.00 V228.40 H364.20 V237.00 M359.90,228.40 V237.00" fill="none" stroke="#222" stroke-width="2"/>
<rect x="370.60" y="224.60" width="19.40" height="16.20" rx="1.6" fill="#fff" stroke="#333" stroke-width="1.3"/>
<path d="M376.00,237.00 V228.40 H384.60 V237.00 M380.30,228.40 V237.00" fill="none" stroke="#222" stroke-width="2"/>
<line x1="349.60" y1="184.30" x2="392.40" y2="184.30" stroke="#3a3a3a" stroke-width="1.0"/>
<line x1="349.60" y1="223.20" x2="392.40" y2="223.20" stroke="#3a3a3a" stroke-width="1.0"/>
<line x1="406.20" y1="184.30" x2="438.60" y2="184.30" stroke="#3a3a3a" stroke-width="1.0"/>
<line x1="406.20" y1="223.20" x2="438.60" y2="223.20" stroke="#3a3a3a" stroke-width="1.0"/>
<line x1="349.60" y1="184.30" x2="349.60" y2="223.20" stroke="#3a3a3a" stroke-width="1.0"/>
<line x1="438.60" y1="184.30" x2="438.60" y2="223.20" stroke="#3a3a3a" stroke-width="1.0"/>
<rect x="410.30" y="184.30" width="12.10" height="38.90" fill="#8a8a8a" stroke="#333" stroke-width="1"/>
<line x1="412.72" y1="184.30" x2="412.72" y2="223.20" stroke="#555" stroke-width="0.5"/>
<line x1="415.14" y1="184.30" x2="415.14" y2="223.20" stroke="#555" stroke-width="0.5"/>
<line x1="417.56" y1="184.30" x2="417.56" y2="223.20" stroke="#555" stroke-width="0.5"/>
<line x1="419.98" y1="184.30" x2="419.98" y2="223.20" stroke="#555" stroke-width="0.5"/>
<line x1="409.30" y1="194.03" x2="423.40" y2="194.03" stroke="#111" stroke-width="1.6"/>
<line x1="409.30" y1="213.47" x2="423.40" y2="213.47" stroke="#111" stroke-width="1.6"/>
<line x1="406.20" y1="143.30" x2="905.90" y2="143.30" stroke="#3a3a3a" stroke-width="1.0"/>
<line x1="406.20" y1="264.70" x2="905.90" y2="264.70" stroke="#3a3a3a" stroke-width="1.0"/>
<line x1="406.20" y1="143.30" x2="406.20" y2="183.80" stroke="#3a3a3a" stroke-width="1.0"/>
<line x1="406.20" y1="223.00" x2="406.20" y2="264.70" stroke="#3a3a3a" stroke-width="1.0"/>
<line x1="905.90" y1="143.30" x2="905.90" y2="183.20" stroke="#3a3a3a" stroke-width="1.0"/>
<line x1="905.90" y1="224.00" x2="905.90" y2="264.70" stroke="#3a3a3a" stroke-width="1.0"/>
<rect x="751.80" y="143.30" width="20.60" height="39.70" fill="#fbf7d0" stroke="#2e2e24" stroke-width="1.7"/>
<rect x="772.40" y="143.30" width="20.50" height="39.70" fill="#fbf7d0" stroke="#2e2e24" stroke-width="1.7"/>
<text transform="translate(757.82,145.50) rotate(90) scale(0.88,1)" font-size="13.0" fill="#111" stroke="#111" stroke-width="0.4" textLength="31.14" lengthAdjust="spacing">6376</text>
<text transform="translate(778.37,145.50) rotate(90) scale(0.88,1)" font-size="13.0" fill="#111" stroke="#111" stroke-width="0.4" textLength="31.14" lengthAdjust="spacing">6372</text>
<circle cx="778.70" cy="176.50" r="2.7" fill="#111"/>
<circle cx="786.60" cy="176.50" r="2.7" fill="#111"/>
<rect x="730.30" y="227.00" width="20.90" height="37.70" fill="#fbf7d0" stroke="#2e2e24" stroke-width="1.7"/>
<rect x="751.20" y="227.00" width="21.20" height="37.70" fill="#fbf7d0" stroke="#2e2e24" stroke-width="1.7"/>
<rect x="772.40" y="227.00" width="20.50" height="37.70" fill="#fbf7d0" stroke="#2e2e24" stroke-width="1.7"/>
<rect x="792.90" y="227.00" width="20.90" height="37.70" fill="#fbf7d0" stroke="#2e2e24" stroke-width="1.7"/>
<text transform="translate(736.47,233.50) rotate(90) scale(0.88,1)" font-size="13.0" fill="#111" stroke="#111" stroke-width="0.4" textLength="31.14" lengthAdjust="spacing">6411</text>
<text transform="translate(757.52,233.50) rotate(90) scale(0.88,1)" font-size="13.0" fill="#111" stroke="#111" stroke-width="0.4" textLength="31.14" lengthAdjust="spacing">6407</text>
<text transform="translate(778.37,233.50) rotate(90) scale(0.88,1)" font-size="13.0" fill="#111" stroke="#111" stroke-width="0.4" textLength="31.14" lengthAdjust="spacing">6403</text>
<text transform="translate(799.07,233.50) rotate(90) scale(0.88,1)" font-size="13.0" fill="#111" stroke="#111" stroke-width="0.4" textLength="31.14" lengthAdjust="spacing">6399</text>
<rect x="813.80" y="230.80" width="25.60" height="33.90" fill="#fbf7d0" stroke="#3a3a2a" stroke-width="1.0"/>
<text transform="translate(818.22,235.50) rotate(90) scale(0.88,1)" font-size="13.0" fill="#111" stroke="#111" stroke-width="0.4" textLength="31.14" lengthAdjust="spacing">6395</text>
<circle cx="834.1" cy="248.4" r="2.4" fill="#111"/>
<polygon points="856.90,143.30 898.50,143.30 898.50,160.40 862.80,160.40 862.80,156.50 856.90,156.50" fill="#fbf7d0" stroke="#3a3a2a" stroke-width="1.0"/>
<rect x="859.80" y="146.50" width="5.70" height="5.70" fill="none" stroke="#222" stroke-width="1"/>
<text transform="translate(870.20,157.44) scale(0.88,1)" font-size="12.6" fill="#111" stroke="#111" stroke-width="0.5" textLength="30.45" lengthAdjust="spacing" text-anchor="start">6360</text>
<polygon points="856.80,244.50 863.30,244.50 863.30,250.00 898.10,250.00 898.10,264.70 856.80,264.70" fill="#fbf7d0" stroke="#3a3a2a" stroke-width="1.0"/>
<rect x="859.80" y="253.00" width="5.70" height="5.70" fill="none" stroke="#222" stroke-width="1"/>
<text transform="translate(870.20,261.04) scale(0.88,1)" font-size="12.6" fill="#111" stroke="#111" stroke-width="0.5" textLength="30.45" lengthAdjust="spacing" text-anchor="start">6387</text>
<rect x="857.20" y="166.00" width="19.40" height="16.20" rx="1.6" fill="#fff" stroke="#333" stroke-width="1.3"/>
<path d="M862.60,178.40 V169.80 H871.20 V178.40 M866.90,169.80 V178.40" fill="none" stroke="#222" stroke-width="2"/>
<rect x="877.80" y="166.00" width="19.40" height="16.20" rx="1.6" fill="#fff" stroke="#333" stroke-width="1.3"/>
<path d="M883.20,178.40 V169.80 H891.80 V178.40 M887.50,169.80 V178.40" fill="none" stroke="#222" stroke-width="2"/>
<rect x="857.20" y="225.30" width="19.40" height="16.20" rx="1.6" fill="#fff" stroke="#333" stroke-width="1.3"/>
<path d="M862.60,237.70 V229.10 H871.20 V237.70 M866.90,229.10 V237.70" fill="none" stroke="#222" stroke-width="2"/>
<rect x="877.80" y="225.30" width="19.40" height="16.20" rx="1.6" fill="#fff" stroke="#333" stroke-width="1.3"/>
<path d="M883.20,237.70 V229.10 H891.80 V237.70 M887.50,229.10 V237.70" fill="none" stroke="#222" stroke-width="2"/>
<line x1="809.20" y1="183.20" x2="905.90" y2="183.20" stroke="#3a3a3a" stroke-width="1.0"/>
<line x1="809.20" y1="224.00" x2="905.90" y2="224.00" stroke="#3a3a3a" stroke-width="1.0"/>
<line x1="809.20" y1="183.20" x2="809.20" y2="224.00" stroke="#3a3a3a" stroke-width="1.0"/>
<rect x="819.00" y="183.20" width="15.20" height="40.80" fill="#8a8a8a" stroke="#333" stroke-width="1"/>
<line x1="821.53" y1="183.20" x2="821.53" y2="224.00" stroke="#555" stroke-width="0.5"/>
<line x1="824.07" y1="183.20" x2="824.07" y2="224.00" stroke="#555" stroke-width="0.5"/>
<line x1="826.60" y1="183.20" x2="826.60" y2="224.00" stroke="#555" stroke-width="0.5"/>
<line x1="829.13" y1="183.20" x2="829.13" y2="224.00" stroke="#555" stroke-width="0.5"/>
<line x1="831.67" y1="183.20" x2="831.67" y2="224.00" stroke="#555" stroke-width="0.5"/>
<line x1="818.00" y1="193.40" x2="835.20" y2="193.40" stroke="#111" stroke-width="1.6"/>
<line x1="818.00" y1="213.80" x2="835.20" y2="213.80" stroke="#111" stroke-width="1.6"/>
<rect x="919.00" y="143.60" width="382.00" height="120.60" fill="none" stroke="#3a3a3a" stroke-width="1.0"/>
<rect x="919.10" y="143.60" width="21.50" height="39.40" fill="#fbf7d0" stroke="#2e2e24" stroke-width="1.7"/>
<rect x="940.60" y="143.60" width="21.10" height="39.40" fill="#fbf7d0" stroke="#2e2e24" stroke-width="1.7"/>
<rect x="961.70" y="143.60" width="21.00" height="39.40" fill="#fbf7d0" stroke="#2e2e24" stroke-width="1.7"/>
<rect x="982.70" y="143.60" width="20.90" height="39.40" fill="#fbf7d0" stroke="#2e2e24" stroke-width="1.7"/>
<rect x="1003.60" y="143.60" width="21.10" height="39.40" fill="#fbf7d0" stroke="#2e2e24" stroke-width="1.7"/>
<rect x="1024.70" y="143.60" width="21.10" height="39.40" fill="#fbf7d0" stroke="#2e2e24" stroke-width="1.7"/>
<rect x="1045.80" y="143.60" width="20.90" height="39.40" fill="#fbf7d0" stroke="#2e2e24" stroke-width="1.7"/>
<rect x="1066.70" y="143.60" width="22.20" height="39.40" fill="#fbf7d0" stroke="#2e2e24" stroke-width="1.7"/>
<rect x="1088.90" y="143.60" width="21.40" height="39.40" fill="#fbf7d0" stroke="#2e2e24" stroke-width="1.7"/>
<rect x="1110.30" y="143.60" width="20.90" height="39.40" fill="#fbf7d0" stroke="#2e2e24" stroke-width="1.7"/>
<rect x="1131.20" y="143.60" width="21.20" height="39.40" fill="#fbf7d0" stroke="#2e2e24" stroke-width="1.7"/>
<rect x="1152.40" y="143.60" width="20.50" height="39.40" fill="#fbf7d0" stroke="#2e2e24" stroke-width="1.7"/>
<rect x="1172.90" y="143.60" width="20.60" height="39.40" fill="#fbf7d0" stroke="#2e2e24" stroke-width="1.7"/>
<rect x="1193.50" y="143.60" width="22.50" height="39.40" fill="#fbf7d0" stroke="#2e2e24" stroke-width="1.7"/>
<rect x="1216.00" y="143.60" width="20.50" height="39.40" fill="#fbf7d0" stroke="#2e2e24" stroke-width="1.7"/>
<rect x="1236.50" y="143.60" width="20.50" height="39.40" fill="#fbf7d0" stroke="#2e2e24" stroke-width="1.7"/>
<rect x="1257.00" y="143.60" width="21.50" height="39.40" fill="#fbf7d0" stroke="#2e2e24" stroke-width="1.7"/>
<rect x="1278.50" y="143.60" width="22.50" height="39.40" fill="#fbf7d0" stroke="#2e2e24" stroke-width="1.7"/>
<text transform="translate(930.07,145.80) rotate(90) scale(0.88,1)" font-size="13.0" fill="#111" stroke="#111" stroke-width="0.4" textLength="31.14" lengthAdjust="spacing">6354</text>
<text transform="translate(946.87,145.80) rotate(90) scale(0.88,1)" font-size="13.0" fill="#111" stroke="#111" stroke-width="0.4" textLength="31.14" lengthAdjust="spacing">6350</text>
<text transform="translate(967.92,145.80) rotate(90) scale(0.88,1)" font-size="13.0" fill="#111" stroke="#111" stroke-width="0.4" textLength="31.14" lengthAdjust="spacing">6346</text>
<text transform="translate(988.87,145.80) rotate(90) scale(0.88,1)" font-size="13.0" fill="#111" stroke="#111" stroke-width="0.4" textLength="31.14" lengthAdjust="spacing">6342</text>
<text transform="translate(1009.87,145.80) rotate(90) scale(0.88,1)" font-size="13.0" fill="#111" stroke="#111" stroke-width="0.4" textLength="31.14" lengthAdjust="spacing">6338</text>
<circle cx="1010.20" cy="176.50" r="2.7" fill="#111"/>
<circle cx="1018.10" cy="176.50" r="2.7" fill="#111"/>
<text transform="translate(1030.97,145.80) rotate(90) scale(0.88,1)" font-size="13.0" fill="#111" stroke="#111" stroke-width="0.4" textLength="31.14" lengthAdjust="spacing">6334</text>
<text transform="translate(1051.97,145.80) rotate(90) scale(0.88,1)" font-size="13.0" fill="#111" stroke="#111" stroke-width="0.4" textLength="31.14" lengthAdjust="spacing">6330</text>
<circle cx="1052.30" cy="176.50" r="2.7" fill="#111"/>
<circle cx="1060.20" cy="176.50" r="2.7" fill="#111"/>
<text transform="translate(1073.52,145.80) rotate(90) scale(0.88,1)" font-size="13.0" fill="#111" stroke="#111" stroke-width="0.4" textLength="31.14" lengthAdjust="spacing">6326</text>
<circle cx="1073.85" cy="176.50" r="2.7" fill="#111"/>
<circle cx="1081.75" cy="176.50" r="2.7" fill="#111"/>
<text transform="translate(1095.32,145.80) rotate(90) scale(0.88,1)" font-size="13.0" fill="#111" stroke="#111" stroke-width="0.4" textLength="31.14" lengthAdjust="spacing">6322</text>
<text transform="translate(1116.47,145.80) rotate(90) scale(0.88,1)" font-size="13.0" fill="#111" stroke="#111" stroke-width="0.4" textLength="31.14" lengthAdjust="spacing">6318</text>
<text transform="translate(1137.52,145.80) rotate(90) scale(0.88,1)" font-size="13.0" fill="#111" stroke="#111" stroke-width="0.4" textLength="31.14" lengthAdjust="spacing">6314</text>
<text transform="translate(1158.37,145.80) rotate(90) scale(0.88,1)" font-size="13.0" fill="#111" stroke="#111" stroke-width="0.4" textLength="31.14" lengthAdjust="spacing">6310</text>
<text transform="translate(1178.92,145.80) rotate(90) scale(0.88,1)" font-size="13.0" fill="#111" stroke="#111" stroke-width="0.4" textLength="31.14" lengthAdjust="spacing">6306</text>
<circle cx="1179.25" cy="176.50" r="2.7" fill="#111"/>
<circle cx="1187.15" cy="176.50" r="2.7" fill="#111"/>
<text transform="translate(1200.47,145.80) rotate(90) scale(0.88,1)" font-size="13.0" fill="#111" stroke="#111" stroke-width="0.4" textLength="31.14" lengthAdjust="spacing">6302</text>
<text transform="translate(1221.97,145.80) rotate(90) scale(0.88,1)" font-size="13.0" fill="#111" stroke="#111" stroke-width="0.4" textLength="31.14" lengthAdjust="spacing">6298</text>
<circle cx="1222.30" cy="176.50" r="2.7" fill="#111"/>
<circle cx="1230.20" cy="176.50" r="2.7" fill="#111"/>
<text transform="translate(1242.47,145.80) rotate(90) scale(0.88,1)" font-size="13.0" fill="#111" stroke="#111" stroke-width="0.4" textLength="31.14" lengthAdjust="spacing">6294</text>
<text transform="translate(1263.47,145.80) rotate(90) scale(0.88,1)" font-size="13.0" fill="#111" stroke="#111" stroke-width="0.4" textLength="31.14" lengthAdjust="spacing">6290</text>
<text transform="translate(1279.97,145.80) rotate(90) scale(0.88,1)" font-size="13.0" fill="#111" stroke="#111" stroke-width="0.4" textLength="31.14" lengthAdjust="spacing">6286</text>
<rect x="931.25" y="194.50" width="32.05" height="30.50" fill="#fbf7d0" stroke="#2e2e24" stroke-width="1.7"/>
<rect x="963.30" y="194.50" width="31.20" height="30.50" fill="#fbf7d0" stroke="#2e2e24" stroke-width="1.7"/>
<rect x="994.50" y="194.50" width="31.30" height="30.50" fill="#fbf7d0" stroke="#2e2e24" stroke-width="1.7"/>
<rect x="1025.80" y="194.50" width="31.20" height="30.50" fill="#fbf7d0" stroke="#2e2e24" stroke-width="1.7"/>
<rect x="1057.00" y="194.50" width="32.00" height="30.50" fill="#fbf7d0" stroke="#2e2e24" stroke-width="1.7"/>
<rect x="1089.00" y="194.50" width="31.30" height="30.50" fill="#fbf7d0" stroke="#2e2e24" stroke-width="1.7"/>
<rect x="1120.30" y="194.50" width="31.30" height="30.50" fill="#fbf7d0" stroke="#2e2e24" stroke-width="1.7"/>
<rect x="1151.60" y="194.50" width="31.20" height="30.50" fill="#fbf7d0" stroke="#2e2e24" stroke-width="1.7"/>
<text transform="translate(943.00,197.60) rotate(90) scale(0.88,1)" font-size="13.0" fill="#111" stroke="#111" stroke-width="0.4" textLength="30.00" lengthAdjust="spacing">6307</text>
<text transform="translate(974.62,197.60) rotate(90) scale(0.88,1)" font-size="13.0" fill="#111" stroke="#111" stroke-width="0.4" textLength="30.00" lengthAdjust="spacing">6305</text>
<text transform="translate(1005.87,197.60) rotate(90) scale(0.88,1)" font-size="13.0" fill="#111" stroke="#111" stroke-width="0.4" textLength="30.00" lengthAdjust="spacing">6303</text>
<text transform="translate(1037.12,197.60) rotate(90) scale(0.88,1)" font-size="13.0" fill="#111" stroke="#111" stroke-width="0.4" textLength="30.00" lengthAdjust="spacing">6301</text>
<text transform="translate(1068.72,197.60) rotate(90) scale(0.88,1)" font-size="13.0" fill="#111" stroke="#111" stroke-width="0.4" textLength="30.00" lengthAdjust="spacing">6299</text>
<text transform="translate(1100.37,197.60) rotate(90) scale(0.88,1)" font-size="13.0" fill="#111" stroke="#111" stroke-width="0.4" textLength="30.00" lengthAdjust="spacing">6297</text>
<text transform="translate(1131.67,197.60) rotate(90) scale(0.88,1)" font-size="13.0" fill="#111" stroke="#111" stroke-width="0.4" textLength="30.00" lengthAdjust="spacing">6295</text>
<text transform="translate(1162.92,197.60) rotate(90) scale(0.88,1)" font-size="13.0" fill="#111" stroke="#111" stroke-width="0.4" textLength="30.00" lengthAdjust="spacing">6293</text>
<rect x="1205.50" y="194.50" width="32.00" height="30.50" fill="#fbf7d0" stroke="#2e2e24" stroke-width="1.7"/>
<rect x="1237.50" y="194.50" width="31.30" height="30.50" fill="#fbf7d0" stroke="#2e2e24" stroke-width="1.7"/>
<rect x="1268.80" y="194.50" width="32.20" height="30.50" fill="#fbf7d0" stroke="#2e2e24" stroke-width="1.7"/>
<text transform="translate(1217.22,197.60) rotate(90) scale(0.88,1)" font-size="13.0" fill="#111" stroke="#111" stroke-width="0.4" textLength="30.00" lengthAdjust="spacing">6291</text>
<text transform="translate(1248.87,197.60) rotate(90) scale(0.88,1)" font-size="13.0" fill="#111" stroke="#111" stroke-width="0.4" textLength="30.00" lengthAdjust="spacing">6289</text>
<text transform="translate(1280.62,197.60) rotate(90) scale(0.88,1)" font-size="13.0" fill="#111" stroke="#111" stroke-width="0.4" textLength="30.00" lengthAdjust="spacing">6287</text>
<rect x="919.00" y="194.50" width="12.25" height="30.50" fill="#fff" stroke="#3a3a3a" stroke-width="1.0"/>
<rect x="1182.80" y="194.50" width="22.70" height="30.50" fill="#fff" stroke="#3a3a3a" stroke-width="1.0"/>
<rect x="919.00" y="225.00" width="22.60" height="39.20" fill="#fbf7d0" stroke="#2e2e24" stroke-width="1.7"/>
<rect x="941.60" y="225.00" width="21.10" height="39.20" fill="#fbf7d0" stroke="#2e2e24" stroke-width="1.7"/>
<rect x="962.70" y="225.00" width="21.00" height="39.20" fill="#fbf7d0" stroke="#2e2e24" stroke-width="1.7"/>
<rect x="983.70" y="225.00" width="21.10" height="39.20" fill="#fbf7d0" stroke="#2e2e24" stroke-width="1.7"/>
<rect x="1004.80" y="225.00" width="21.00" height="39.20" fill="#fbf7d0" stroke="#2e2e24" stroke-width="1.7"/>
<rect x="1025.80" y="225.00" width="21.00" height="39.20" fill="#fbf7d0" stroke="#2e2e24" stroke-width="1.7"/>
<rect x="1046.80" y="225.00" width="20.90" height="39.20" fill="#fbf7d0" stroke="#2e2e24" stroke-width="1.7"/>
<rect x="1067.70" y="225.00" width="21.10" height="39.20" fill="#fbf7d0" stroke="#2e2e24" stroke-width="1.7"/>
<rect x="1088.80" y="225.00" width="21.50" height="39.20" fill="#fbf7d0" stroke="#2e2e24" stroke-width="1.7"/>
<rect x="1110.30" y="225.00" width="20.90" height="39.20" fill="#fbf7d0" stroke="#2e2e24" stroke-width="1.7"/>
<rect x="1131.20" y="225.00" width="21.20" height="39.20" fill="#fbf7d0" stroke="#2e2e24" stroke-width="1.7"/>
<rect x="1152.40" y="225.00" width="20.60" height="39.20" fill="#fbf7d0" stroke="#2e2e24" stroke-width="1.7"/>
<rect x="1173.00" y="225.00" width="20.80" height="39.20" fill="#fbf7d0" stroke="#2e2e24" stroke-width="1.7"/>
<rect x="1193.80" y="225.00" width="22.20" height="39.20" fill="#fbf7d0" stroke="#2e2e24" stroke-width="1.7"/>
<rect x="1216.00" y="225.00" width="21.00" height="39.20" fill="#fbf7d0" stroke="#2e2e24" stroke-width="1.7"/>
<rect x="1237.00" y="225.00" width="20.00" height="39.20" fill="#fbf7d0" stroke="#2e2e24" stroke-width="1.7"/>
<rect x="1257.00" y="225.00" width="21.50" height="39.20" fill="#fbf7d0" stroke="#2e2e24" stroke-width="1.7"/>
<rect x="1278.50" y="225.00" width="22.50" height="39.20" fill="#fbf7d0" stroke="#2e2e24" stroke-width="1.7"/>
<text transform="translate(930.52,234.50) rotate(90) scale(0.88,1)" font-size="13.0" fill="#111" stroke="#111" stroke-width="0.4" textLength="31.14" lengthAdjust="spacing">6381</text>
<text transform="translate(947.87,234.50) rotate(90) scale(0.88,1)" font-size="13.0" fill="#111" stroke="#111" stroke-width="0.4" textLength="31.14" lengthAdjust="spacing">6377</text>
<text transform="translate(968.92,234.50) rotate(90) scale(0.88,1)" font-size="13.0" fill="#111" stroke="#111" stroke-width="0.4" textLength="31.14" lengthAdjust="spacing">6373</text>
<text transform="translate(989.97,234.50) rotate(90) scale(0.88,1)" font-size="13.0" fill="#111" stroke="#111" stroke-width="0.4" textLength="31.14" lengthAdjust="spacing">6369</text>
<text transform="translate(1011.02,234.50) rotate(90) scale(0.88,1)" font-size="13.0" fill="#111" stroke="#111" stroke-width="0.4" textLength="31.14" lengthAdjust="spacing">6365</text>
<circle cx="1011.35" cy="231.20" r="2.7" fill="#111"/>
<circle cx="1019.25" cy="231.20" r="2.7" fill="#111"/>
<text transform="translate(1032.02,234.50) rotate(90) scale(0.88,1)" font-size="13.0" fill="#111" stroke="#111" stroke-width="0.4" textLength="31.14" lengthAdjust="spacing">6361</text>
<text transform="translate(1052.97,234.50) rotate(90) scale(0.88,1)" font-size="13.0" fill="#111" stroke="#111" stroke-width="0.4" textLength="31.14" lengthAdjust="spacing">6357</text>
<circle cx="1053.30" cy="231.20" r="2.7" fill="#111"/>
<circle cx="1061.20" cy="231.20" r="2.7" fill="#111"/>
<text transform="translate(1073.97,234.50) rotate(90) scale(0.88,1)" font-size="13.0" fill="#111" stroke="#111" stroke-width="0.4" textLength="31.14" lengthAdjust="spacing">6353</text>
<circle cx="1074.30" cy="231.20" r="2.7" fill="#111"/>
<circle cx="1082.20" cy="231.20" r="2.7" fill="#111"/>
<text transform="translate(1095.27,234.50) rotate(90) scale(0.88,1)" font-size="13.0" fill="#111" stroke="#111" stroke-width="0.4" textLength="31.14" lengthAdjust="spacing">6349</text>
<text transform="translate(1116.47,234.50) rotate(90) scale(0.88,1)" font-size="13.0" fill="#111" stroke="#111" stroke-width="0.4" textLength="31.14" lengthAdjust="spacing">6345</text>
<text transform="translate(1137.52,234.50) rotate(90) scale(0.88,1)" font-size="13.0" fill="#111" stroke="#111" stroke-width="0.4" textLength="31.14" lengthAdjust="spacing">6341</text>
<text transform="translate(1158.42,234.50) rotate(90) scale(0.88,1)" font-size="13.0" fill="#111" stroke="#111" stroke-width="0.4" textLength="31.14" lengthAdjust="spacing">6337</text>
<text transform="translate(1179.12,234.50) rotate(90) scale(0.88,1)" font-size="13.0" fill="#111" stroke="#111" stroke-width="0.4" textLength="31.14" lengthAdjust="spacing">6333</text>
<circle cx="1179.45" cy="231.20" r="2.7" fill="#111"/>
<circle cx="1187.35" cy="231.20" r="2.7" fill="#111"/>
<text transform="translate(1200.62,234.50) rotate(90) scale(0.88,1)" font-size="13.0" fill="#111" stroke="#111" stroke-width="0.4" textLength="31.14" lengthAdjust="spacing">6329</text>
<text transform="translate(1222.22,234.50) rotate(90) scale(0.88,1)" font-size="13.0" fill="#111" stroke="#111" stroke-width="0.4" textLength="31.14" lengthAdjust="spacing">6325</text>
<circle cx="1222.55" cy="231.20" r="2.7" fill="#111"/>
<circle cx="1230.45" cy="231.20" r="2.7" fill="#111"/>
<text transform="translate(1242.72,234.50) rotate(90) scale(0.88,1)" font-size="13.0" fill="#111" stroke="#111" stroke-width="0.4" textLength="31.14" lengthAdjust="spacing">6321</text>
<text transform="translate(1263.47,234.50) rotate(90) scale(0.88,1)" font-size="13.0" fill="#111" stroke="#111" stroke-width="0.4" textLength="31.14" lengthAdjust="spacing">6317</text>
<text transform="translate(1279.97,234.50) rotate(90) scale(0.88,1)" font-size="13.0" fill="#111" stroke="#111" stroke-width="0.4" textLength="31.14" lengthAdjust="spacing">6311</text>
<path d="M984.50,191 C985.50,184.5 1005.50,184.5 1006.50,191" fill="none" stroke="#111" stroke-width="1.3"/>
<path d="M980.50,189.5 L984.50,193.8 L988.50,189.5z M1002.50,189.5 L1006.50,193.8 L1010.50,189.5z" fill="#111"/>
<path d="M1048.30,191 C1049.30,184.5 1069.30,184.5 1070.30,191" fill="none" stroke="#111" stroke-width="1.3"/>
<path d="M1044.30,189.5 L1048.30,193.8 L1052.30,189.5z M1066.30,189.5 L1070.30,193.8 L1074.30,189.5z" fill="#111"/>
<path d="M1108.50,191 C1109.50,184.5 1129.50,184.5 1130.50,191" fill="none" stroke="#111" stroke-width="1.3"/>
<path d="M1104.50,189.5 L1108.50,193.8 L1112.50,189.5z M1126.50,189.5 L1130.50,193.8 L1134.50,189.5z" fill="#111"/>
<line x1="1308.20" y1="143.60" x2="1366.40" y2="143.60" stroke="#333" stroke-width="1.1"/>
<line x1="1308.20" y1="264.70" x2="1366.40" y2="264.70" stroke="#333" stroke-width="1.1"/>
<line x1="1308.20" y1="143.40" x2="1308.20" y2="264.70" stroke="#3a3a3a" stroke-width="1.0"/>
<path d="M1345.3,143.4 V152.8 H1327.4 L1311.1,169.1 V238.5 L1327.4,254.8 H1345.3 V264.7" fill="none" stroke="#333" stroke-width="1"/>
<path d="M1345.3,152.8 L1354.8,161.4 H1363.3 V246 H1354.8 L1345.3,254.8" fill="none" stroke="#333" stroke-width="1"/>
<path d="M1363.3,169.20 H1355 A6,6 0 1 0 1355,179.20 H1363.3" fill="#fff" stroke="#333" stroke-width="1"/>
<path d="M1363.3,188.60 H1355 A6,6 0 1 0 1355,198.60 H1363.3" fill="#fff" stroke="#333" stroke-width="1"/>
<path d="M1363.3,209.20 H1355 A6,6 0 1 0 1355,219.20 H1363.3" fill="#fff" stroke="#333" stroke-width="1"/>
<path d="M1363.3,228.40 H1355 A6,6 0 1 0 1355,238.40 H1363.3" fill="#fff" stroke="#333" stroke-width="1"/>
<rect x="1382.80" y="143.30" width="66.50" height="41.30" fill="none" stroke="#3a3a3a" stroke-width="1.0"/>
<rect x="1382.80" y="223.10" width="66.50" height="41.60" fill="none" stroke="#3a3a3a" stroke-width="1.0"/>
<rect x="1385.60" y="166.00" width="19.40" height="16.20" rx="1.6" fill="#fff" stroke="#333" stroke-width="1.3"/>
<path d="M1391.00,178.40 V169.80 H1399.60 V178.40 M1395.30,169.80 V178.40" fill="none" stroke="#222" stroke-width="2"/>
<rect x="1385.60" y="224.50" width="19.40" height="16.20" rx="1.6" fill="#fff" stroke="#333" stroke-width="1.3"/>
<path d="M1391.00,236.90 V228.30 H1399.60 V236.90 M1395.30,228.30 V236.90" fill="none" stroke="#222" stroke-width="2"/>
<rect x="1406.40" y="166.00" width="19.40" height="16.20" rx="1.6" fill="#fff" stroke="#333" stroke-width="1.3"/>
<path d="M1411.80,178.40 V169.80 H1420.40 V178.40 M1416.10,169.80 V178.40" fill="none" stroke="#222" stroke-width="2"/>
<rect x="1406.40" y="224.50" width="19.40" height="16.20" rx="1.6" fill="#fff" stroke="#333" stroke-width="1.3"/>
<path d="M1411.80,236.90 V228.30 H1420.40 V236.90 M1416.10,228.30 V236.90" fill="none" stroke="#222" stroke-width="2"/>
<rect x="1427.20" y="166.00" width="19.40" height="16.20" rx="1.6" fill="#fff" stroke="#333" stroke-width="1.3"/>
<path d="M1432.60,178.40 V169.80 H1441.20 V178.40 M1436.90,169.80 V178.40" fill="none" stroke="#222" stroke-width="2"/>
<rect x="1427.20" y="224.50" width="19.40" height="16.20" rx="1.6" fill="#fff" stroke="#333" stroke-width="1.3"/>
<path d="M1432.60,236.90 V228.30 H1441.20 V236.90 M1436.90,228.30 V236.90" fill="none" stroke="#222" stroke-width="2"/>
<g><path d="M1358.2,145.5 A8,8.8 0 0 0 1374.3,145.5 A8,8 0 0 0 1382.2,153.6 V143.6 M1449,153.1 A8.5,8 0 0 0 1458,145.8 A8,8.8 0 0 0 1473.8,146.3 M1489.7,133.9 A9.5,10.5 0 0 0 1489.7,154.8 V157.4" fill="none" stroke="#222" stroke-width="1.1"/><line x1="1345" y1="143.8" x2="1366.4" y2="143.8" stroke="#222" stroke-width="2.6"/><line x1="1466.5" y1="145" x2="1491.4" y2="145" stroke="#111" stroke-width="3"/></g>
<g transform="translate(0,408.3) scale(1,-1)"><path d="M1358.2,145.5 A8,8.8 0 0 0 1374.3,145.5 A8,8 0 0 0 1382.2,153.6 V143.6 M1449,153.1 A8.5,8 0 0 0 1458,145.8 A8,8.8 0 0 0 1473.8,146.3 M1489.7,133.9 A9.5,10.5 0 0 0 1489.7,154.8 V157.4" fill="none" stroke="#222" stroke-width="1.1"/><line x1="1345" y1="143.8" x2="1366.4" y2="143.8" stroke="#222" stroke-width="2.6"/><line x1="1466.5" y1="145" x2="1491.4" y2="145" stroke="#111" stroke-width="3"/></g>
<g><path d="M1512.7,156.2 H1490.2 V159.9 H1463.3 V164.8" fill="none" stroke="#333" stroke-width="1.1"/></g>
<g transform="translate(0,408.3) scale(1,-1)"><path d="M1512.7,156.2 H1490.2 V159.9 H1463.3 V164.8" fill="none" stroke="#333" stroke-width="1.1"/></g>
<rect x="1464.6" y="164.6" width="15.2" height="79.1" fill="#7d7d7d" stroke="#333" stroke-width="1"/>
<line x1="1466.77" y1="164.60" x2="1466.77" y2="243.70" stroke="#4a4a4a" stroke-width="0.6"/>
<line x1="1468.94" y1="164.60" x2="1468.94" y2="243.70" stroke="#4a4a4a" stroke-width="0.6"/>
<line x1="1471.11" y1="164.60" x2="1471.11" y2="243.70" stroke="#4a4a4a" stroke-width="0.6"/>
<line x1="1473.29" y1="164.60" x2="1473.29" y2="243.70" stroke="#4a4a4a" stroke-width="0.6"/>
<line x1="1475.46" y1="164.60" x2="1475.46" y2="243.70" stroke="#4a4a4a" stroke-width="0.6"/>
<line x1="1477.63" y1="164.60" x2="1477.63" y2="243.70" stroke="#4a4a4a" stroke-width="0.6"/>
<rect x="1479.80" y="164.20" width="9.80" height="79.90" fill="#fff" stroke="#333" stroke-width="1.0"/>
<line x1="1460.30" y1="174.60" x2="1479.80" y2="174.60" stroke="#111" stroke-width="1.8"/>
<line x1="1460.30" y1="184.30" x2="1479.80" y2="184.30" stroke="#111" stroke-width="1.8"/>
<line x1="1460.30" y1="194.10" x2="1479.80" y2="194.10" stroke="#111" stroke-width="1.8"/>
<line x1="1460.30" y1="213.80" x2="1479.80" y2="213.80" stroke="#111" stroke-width="1.8"/>
<line x1="1460.30" y1="223.60" x2="1479.80" y2="223.60" stroke="#111" stroke-width="1.8"/>
<line x1="1460.30" y1="233.40" x2="1479.80" y2="233.40" stroke="#111" stroke-width="1.8"/>
<rect x="1512.70" y="143.60" width="253.30" height="120.60" fill="none" stroke="#3a3a3a" stroke-width="1.0"/>
<rect x="1512.70" y="143.60" width="20.90" height="39.10" fill="#fbf7d0" stroke="#2e2e24" stroke-width="1.7"/>
<rect x="1533.60" y="143.60" width="21.20" height="39.10" fill="#fbf7d0" stroke="#2e2e24" stroke-width="1.7"/>
<rect x="1554.80" y="143.60" width="20.90" height="39.10" fill="#fbf7d0" stroke="#2e2e24" stroke-width="1.7"/>
<rect x="1575.70" y="143.60" width="20.70" height="39.10" fill="#fbf7d0" stroke="#2e2e24" stroke-width="1.7"/>
<rect x="1596.40" y="143.60" width="21.60" height="39.10" fill="#fbf7d0" stroke="#2e2e24" stroke-width="1.7"/>
<rect x="1618.00" y="143.60" width="20.90" height="39.10" fill="#fbf7d0" stroke="#2e2e24" stroke-width="1.7"/>
<rect x="1638.90" y="143.60" width="20.90" height="39.10" fill="#fbf7d0" stroke="#2e2e24" stroke-width="1.7"/>
<rect x="1659.80" y="143.60" width="21.20" height="39.10" fill="#fbf7d0" stroke="#2e2e24" stroke-width="1.7"/>
<rect x="1681.00" y="143.60" width="20.00" height="39.10" fill="#fbf7d0" stroke="#2e2e24" stroke-width="1.7"/>
<text transform="translate(1518.87,145.80) rotate(90) scale(0.88,1)" font-size="13.0" fill="#111" stroke="#111" stroke-width="0.4" textLength="31.14" lengthAdjust="spacing">6262</text>
<circle cx="1519.20" cy="176.20" r="2.7" fill="#111"/>
<circle cx="1527.10" cy="176.20" r="2.7" fill="#111"/>
<text transform="translate(1539.92,145.80) rotate(90) scale(0.88,1)" font-size="13.0" fill="#111" stroke="#111" stroke-width="0.4" textLength="31.14" lengthAdjust="spacing">6258</text>
<text transform="translate(1560.97,145.80) rotate(90) scale(0.88,1)" font-size="13.0" fill="#111" stroke="#111" stroke-width="0.4" textLength="31.14" lengthAdjust="spacing">6254</text>
<text transform="translate(1581.77,145.80) rotate(90) scale(0.88,1)" font-size="13.0" fill="#111" stroke="#111" stroke-width="0.4" textLength="31.14" lengthAdjust="spacing">6250</text>
<text transform="translate(1602.92,145.80) rotate(90) scale(0.88,1)" font-size="13.0" fill="#111" stroke="#111" stroke-width="0.4" textLength="31.14" lengthAdjust="spacing">6246</text>
<text transform="translate(1624.17,145.80) rotate(90) scale(0.88,1)" font-size="13.0" fill="#111" stroke="#111" stroke-width="0.4" textLength="31.14" lengthAdjust="spacing">6242</text>
<circle cx="1624.50" cy="176.20" r="2.7" fill="#111"/>
<circle cx="1632.40" cy="176.20" r="2.7" fill="#111"/>
<text transform="translate(1645.07,145.80) rotate(90) scale(0.88,1)" font-size="13.0" fill="#111" stroke="#111" stroke-width="0.4" textLength="31.14" lengthAdjust="spacing">6238</text>
<text transform="translate(1666.12,145.80) rotate(90) scale(0.88,1)" font-size="13.0" fill="#111" stroke="#111" stroke-width="0.4" textLength="31.14" lengthAdjust="spacing">6234</text>
<circle cx="1666.45" cy="176.20" r="2.7" fill="#111"/>
<circle cx="1674.35" cy="176.20" r="2.7" fill="#111"/>
<text transform="translate(1686.72,145.80) rotate(90) scale(0.88,1)" font-size="13.0" fill="#111" stroke="#111" stroke-width="0.4" textLength="31.14" lengthAdjust="spacing">6230</text>
<rect x="1512.70" y="225.00" width="20.90" height="39.20" fill="#fbf7d0" stroke="#2e2e24" stroke-width="1.7"/>
<rect x="1533.60" y="225.00" width="21.20" height="39.20" fill="#fbf7d0" stroke="#2e2e24" stroke-width="1.7"/>
<rect x="1554.80" y="225.00" width="20.90" height="39.20" fill="#fbf7d0" stroke="#2e2e24" stroke-width="1.7"/>
<rect x="1575.70" y="225.00" width="20.70" height="39.20" fill="#fbf7d0" stroke="#2e2e24" stroke-width="1.7"/>
<rect x="1596.40" y="225.00" width="21.60" height="39.20" fill="#fbf7d0" stroke="#2e2e24" stroke-width="1.7"/>
<rect x="1618.00" y="225.00" width="20.90" height="39.20" fill="#fbf7d0" stroke="#2e2e24" stroke-width="1.7"/>
<rect x="1638.90" y="225.00" width="20.90" height="39.20" fill="#fbf7d0" stroke="#2e2e24" stroke-width="1.7"/>
<rect x="1659.80" y="225.00" width="21.20" height="39.20" fill="#fbf7d0" stroke="#2e2e24" stroke-width="1.7"/>
<rect x="1681.00" y="225.00" width="20.00" height="39.20" fill="#fbf7d0" stroke="#2e2e24" stroke-width="1.7"/>
<text transform="translate(1518.87,234.50) rotate(90) scale(0.88,1)" font-size="13.0" fill="#111" stroke="#111" stroke-width="0.4" textLength="31.14" lengthAdjust="spacing">6265</text>
<circle cx="1519.20" cy="231.20" r="2.7" fill="#111"/>
<circle cx="1527.10" cy="231.20" r="2.7" fill="#111"/>
<text transform="translate(1539.92,234.50) rotate(90) scale(0.88,1)" font-size="13.0" fill="#111" stroke="#111" stroke-width="0.4" textLength="31.14" lengthAdjust="spacing">6261</text>
<text transform="translate(1560.97,234.50) rotate(90) scale(0.88,1)" font-size="13.0" fill="#111" stroke="#111" stroke-width="0.4" textLength="31.14" lengthAdjust="spacing">6257</text>
<circle cx="1561.30" cy="231.20" r="2.7" fill="#111"/>
<circle cx="1569.20" cy="231.20" r="2.7" fill="#111"/>
<text transform="translate(1581.77,234.50) rotate(90) scale(0.88,1)" font-size="13.0" fill="#111" stroke="#111" stroke-width="0.4" textLength="31.14" lengthAdjust="spacing">6253</text>
<text transform="translate(1602.92,234.50) rotate(90) scale(0.88,1)" font-size="13.0" fill="#111" stroke="#111" stroke-width="0.4" textLength="31.14" lengthAdjust="spacing">6249</text>
<text transform="translate(1624.17,234.50) rotate(90) scale(0.88,1)" font-size="13.0" fill="#111" stroke="#111" stroke-width="0.4" textLength="31.14" lengthAdjust="spacing">6245</text>
<circle cx="1624.50" cy="231.20" r="2.7" fill="#111"/>
<circle cx="1632.40" cy="231.20" r="2.7" fill="#111"/>
<text transform="translate(1645.07,234.50) rotate(90) scale(0.88,1)" font-size="13.0" fill="#111" stroke="#111" stroke-width="0.4" textLength="31.14" lengthAdjust="spacing">6241</text>
<text transform="translate(1666.12,234.50) rotate(90) scale(0.88,1)" font-size="13.0" fill="#111" stroke="#111" stroke-width="0.4" textLength="31.14" lengthAdjust="spacing">6237</text>
<circle cx="1666.45" cy="231.20" r="2.7" fill="#111"/>
<circle cx="1674.35" cy="231.20" r="2.7" fill="#111"/>
<text transform="translate(1686.72,234.50) rotate(90) scale(0.88,1)" font-size="13.0" fill="#111" stroke="#111" stroke-width="0.4" textLength="31.14" lengthAdjust="spacing">6233</text>
<polygon points="1701.00,143.60 1743.50,143.60 1743.50,157.80 1733.00,157.80 1733.00,160.00 1701.00,160.00" fill="#fbf7d0" stroke="#3a3a2a" stroke-width="1.0"/>
<text transform="translate(1702.00,156.44) scale(0.88,1)" font-size="12.6" fill="#111" stroke="#111" stroke-width="0.5" textLength="31.14" lengthAdjust="spacing" text-anchor="start">6224</text>
<circle cx="1731.5" cy="151" r="2.4" fill="#111"/>
<rect x="1736.00" y="148.00" width="5.50" height="5.50" fill="none" stroke="#222" stroke-width="1"/>
<polygon points="1701.00,264.20 1743.50,264.20 1743.50,249.50 1733.00,249.50 1733.00,247.50 1701.00,247.50" fill="#fbf7d0" stroke="#3a3a2a" stroke-width="1.0"/>
<text transform="translate(1702.00,261.04) scale(0.88,1)" font-size="12.6" fill="#111" stroke="#111" stroke-width="0.5" textLength="31.14" lengthAdjust="spacing" text-anchor="start">6227</text>
<circle cx="1731.5" cy="256.5" r="2.4" fill="#111"/>
<rect x="1736.00" y="253.50" width="5.50" height="5.50" fill="none" stroke="#222" stroke-width="1"/>
<rect x="1775.20" y="143.60" width="109.20" height="120.60" fill="none" stroke="#3a3a3a" stroke-width="1.0"/>
<rect x="1788.00" y="143.60" width="20.50" height="39.10" fill="#fbf7d0" stroke="#2e2e24" stroke-width="1.7"/>
<text transform="translate(1793.97,148.00) rotate(90) scale(0.88,1)" font-size="13.0" fill="#111" stroke="#111" stroke-width="0.4" textLength="31.14" lengthAdjust="spacing">6216</text>
<rect x="1788.00" y="225.00" width="20.50" height="39.20" fill="#fbf7d0" stroke="#2e2e24" stroke-width="1.7"/>
<rect x="1808.50" y="225.00" width="20.50" height="39.20" fill="#fbf7d0" stroke="#2e2e24" stroke-width="1.7"/>
<text transform="translate(1793.97,233.00) rotate(90) scale(0.88,1)" font-size="13.0" fill="#111" stroke="#111" stroke-width="0.4" textLength="31.14" lengthAdjust="spacing">6219</text>
<text transform="translate(1814.47,233.00) rotate(90) scale(0.88,1)" font-size="13.0" fill="#111" stroke="#111" stroke-width="0.4" textLength="31.14" lengthAdjust="spacing">6215</text>
<line x1="1938.30" y1="153.00" x2="1938.30" y2="255.00" stroke="#666" stroke-width="0.8"/>
<path d="M1893.2,131.4 H1913.5 L1935.8,153.3 V158.0 A5,5 0 0 1 1930.8,163.0 H1893.2Z" fill="#ec9d45" stroke="#4a2e12" stroke-width="1.1"/>
<path d="M1893.2,163.0 H1930.8 A5,5 0 0 1 1935.8,168.0 V178.4 A5,5 0 0 1 1930.8,183.4 H1893.2Z" fill="#ec9d45" stroke="#4a2e12" stroke-width="1.1"/>
<path d="M1893.2,183.4 H1930.8 A5,5 0 0 1 1935.8,188.4 V198.6 A5,5 0 0 1 1930.8,203.6 H1893.2Z" fill="#ec9d45" stroke="#4a2e12" stroke-width="1.1"/>
<path d="M1893.2,203.6 H1930.8 A5,5 0 0 1 1935.8,208.6 V218.8 A5,5 0 0 1 1930.8,223.8 H1893.2Z" fill="#ec9d45" stroke="#4a2e12" stroke-width="1.1"/>
<path d="M1893.2,223.8 H1930.8 A5,5 0 0 1 1935.8,228.8 V239.8 A5,5 0 0 1 1930.8,244.8 H1893.2Z" fill="#ec9d45" stroke="#4a2e12" stroke-width="1.1"/>
<path d="M1893.2,244.8 H1930.8 A5,5 0 0 1 1935.8,249.8 V255 L1913.5,275.9 H1893.2Z" fill="#ec9d45" stroke="#4a2e12" stroke-width="1.1"/>
<text transform="translate(1901.20,158.98) scale(0.88,1)" font-size="13.0" fill="#2a1808" stroke="#2a1808" stroke-width="0.5" textLength="28.64" lengthAdjust="spacing" text-anchor="start">6206</text>
<path d="M1928,151.80 L1933.6,157.50" stroke="#2a1808" stroke-width="1.5"/>
<circle cx="1927.6" cy="151.70" r="1.3" fill="#2a1808"/>
<circle cx="1897" cy="151.90" r="1.2" fill="#2a1808"/><circle cx="1897" cy="156.10" r="1.2" fill="#2a1808"/>
<text transform="translate(1901.20,177.98) scale(0.88,1)" font-size="13.0" fill="#2a1808" stroke="#2a1808" stroke-width="0.5" textLength="28.64" lengthAdjust="spacing" text-anchor="start">6204</text>
<path d="M1928,170.80 L1933.6,176.50" stroke="#2a1808" stroke-width="1.5"/>
<circle cx="1927.6" cy="170.70" r="1.3" fill="#2a1808"/>
<text transform="translate(1901.20,198.18) scale(0.88,1)" font-size="13.0" fill="#2a1808" stroke="#2a1808" stroke-width="0.5" textLength="28.64" lengthAdjust="spacing" text-anchor="start">6202</text>
<path d="M1928,191.00 L1933.6,196.70" stroke="#2a1808" stroke-width="1.5"/>
<circle cx="1927.6" cy="190.90" r="1.3" fill="#2a1808"/>
<circle cx="1897" cy="191.10" r="1.2" fill="#2a1808"/><circle cx="1897" cy="195.30" r="1.2" fill="#2a1808"/>
<text transform="translate(1901.20,218.38) scale(0.88,1)" font-size="13.0" fill="#2a1808" stroke="#2a1808" stroke-width="0.5" textLength="28.64" lengthAdjust="spacing" text-anchor="start">6201</text>
<path d="M1928,211.20 L1933.6,216.90" stroke="#2a1808" stroke-width="1.5"/>
<circle cx="1927.6" cy="211.10" r="1.3" fill="#2a1808"/>
<circle cx="1897" cy="211.30" r="1.2" fill="#2a1808"/><circle cx="1897" cy="215.50" r="1.2" fill="#2a1808"/>
<text transform="translate(1901.20,238.98) scale(0.88,1)" font-size="13.0" fill="#2a1808" stroke="#2a1808" stroke-width="0.5" textLength="28.64" lengthAdjust="spacing" text-anchor="start">6203</text>
<path d="M1928,231.80 L1933.6,237.50" stroke="#2a1808" stroke-width="1.5"/>
<circle cx="1927.6" cy="231.70" r="1.3" fill="#2a1808"/>
<text transform="translate(1901.20,258.28) scale(0.88,1)" font-size="13.0" fill="#2a1808" stroke="#2a1808" stroke-width="0.5" textLength="28.64" lengthAdjust="spacing" text-anchor="start">6205</text>
<path d="M1928,251.10 L1933.6,256.80" stroke="#2a1808" stroke-width="1.5"/>
<circle cx="1927.6" cy="251.00" r="1.3" fill="#2a1808"/>
<circle cx="1897" cy="251.20" r="1.2" fill="#2a1808"/><circle cx="1897" cy="255.40" r="1.2" fill="#2a1808"/>
<path d="M1899.8,137.40 h9 M1899.8,142.60 h9 M1904.3,137.40 v5.2" fill="none" stroke="#2a1808" stroke-width="2"/>
<path d="M1899.8,265.70 h9 M1899.8,270.90 h9 M1904.3,265.70 v5.2" fill="none" stroke="#2a1808" stroke-width="2"/>
<polyline points="1876.00,119.50 1885.50,119.50 1885.50,131.40 1893.00,131.40" fill="none" stroke="#3a3a3a" stroke-width="1.0"/>
<polyline points="1876.00,288.30 1885.50,288.30 1885.50,275.90 1893.00,275.90" fill="none" stroke="#3a3a3a" stroke-width="1.0"/>
<path d="M920.30,159.90 h7.00 M920.30,166.10 h7.00 M923.80,159.90 v6.20" fill="none" stroke="#111" stroke-width="1.9"/>
<path d="M921.00,170.30 l2,-3 l2,3z M921.00,176.30 l2,-3 l2,3z" fill="#111"/>
<path d="M1292.00,158.50 h7.00 M1292.00,164.70 h7.00 M1295.50,158.50 v6.20" fill="none" stroke="#111" stroke-width="1.9"/>
<path d="M1293.00,170.00 l2,-3 l2,3z M1293.00,176.00 l2,-3 l2,3z" fill="#111"/>
<path d="M920.30,242.90 h7.00 M920.30,249.10 h7.00 M923.80,242.90 v6.20" fill="none" stroke="#111" stroke-width="1.9"/>
<path d="M921.00,229.80 l2,-3 l2,3z M921.00,235.80 l2,-3 l2,3z" fill="#111"/>
<path d="M1292.00,242.90 h7.00 M1292.00,249.10 h7.00 M1295.50,242.90 v6.20" fill="none" stroke="#111" stroke-width="1.9"/>
<path d="M1293.00,229.80 l2,-3 l2,3z M1293.00,235.80 l2,-3 l2,3z" fill="#111"/>
<path d="M223.00,85.9 a3.7,4.6 0 0 1 7.4,0" fill="none" stroke="#333" stroke-width="1"/>
<path d="M223.00,320.6 a3.7,4.6 0 0 0 7.4,0" fill="none" stroke="#333" stroke-width="1"/>
<path d="M257.85,85.90 a3.7,4.6 0 0 1 7.4,0 M265.25,85.90 a3.7,4.6 0 0 1 7.4,0" fill="none" stroke="#333" stroke-width="1"/>
<path d="M257.85,320.60 a3.7,4.6 0 0 0 7.4,0 M265.25,320.60 a3.7,4.6 0 0 0 7.4,0" fill="none" stroke="#333" stroke-width="1"/>
<path d="M300.10,85.90 a3.7,4.6 0 0 1 7.4,0 M307.50,85.90 a3.7,4.6 0 0 1 7.4,0" fill="none" stroke="#333" stroke-width="1"/>
<path d="M300.10,320.60 a3.7,4.6 0 0 0 7.4,0 M307.50,320.60 a3.7,4.6 0 0 0 7.4,0" fill="none" stroke="#333" stroke-width="1"/>
<path d="M342.36,85.90 a3.7,4.6 0 0 1 7.4,0 M349.76,85.90 a3.7,4.6 0 0 1 7.4,0" fill="none" stroke="#333" stroke-width="1"/>
<path d="M342.36,320.60 a3.7,4.6 0 0 0 7.4,0 M349.76,320.60 a3.7,4.6 0 0 0 7.4,0" fill="none" stroke="#333" stroke-width="1"/>
<path d="M384.61,85.90 a3.7,4.6 0 0 1 7.4,0 M392.01,85.90 a3.7,4.6 0 0 1 7.4,0" fill="none" stroke="#333" stroke-width="1"/>
<path d="M384.61,320.60 a3.7,4.6 0 0 0 7.4,0 M392.01,320.60 a3.7,4.6 0 0 0 7.4,0" fill="none" stroke="#333" stroke-width="1"/>
<path d="M426.86,85.90 a3.7,4.6 0 0 1 7.4,0 M434.26,85.90 a3.7,4.6 0 0 1 7.4,0" fill="none" stroke="#333" stroke-width="1"/>
<path d="M426.86,320.60 a3.7,4.6 0 0 0 7.4,0 M434.26,320.60 a3.7,4.6 0 0 0 7.4,0" fill="none" stroke="#333" stroke-width="1"/>
<path d="M469.11,85.90 a3.7,4.6 0 0 1 7.4,0 M476.51,85.90 a3.7,4.6 0 0 1 7.4,0" fill="none" stroke="#333" stroke-width="1"/>
<path d="M469.11,320.60 a3.7,4.6 0 0 0 7.4,0 M476.51,320.60 a3.7,4.6 0 0 0 7.4,0" fill="none" stroke="#333" stroke-width="1"/>
<path d="M511.36,85.90 a3.7,4.6 0 0 1 7.4,0 M518.76,85.90 a3.7,4.6 0 0 1 7.4,0" fill="none" stroke="#333" stroke-width="1"/>
<path d="M511.36,320.60 a3.7,4.6 0 0 0 7.4,0 M518.76,320.60 a3.7,4.6 0 0 0 7.4,0" fill="none" stroke="#333" stroke-width="1"/>
<path d="M553.62,85.90 a3.7,4.6 0 0 1 7.4,0 M561.02,85.90 a3.7,4.6 0 0 1 7.4,0" fill="none" stroke="#333" stroke-width="1"/>
<path d="M553.62,320.60 a3.7,4.6 0 0 0 7.4,0 M561.02,320.60 a3.7,4.6 0 0 0 7.4,0" fill="none" stroke="#333" stroke-width="1"/>
<path d="M595.87,85.90 a3.7,4.6 0 0 1 7.4,0 M603.27,85.90 a3.7,4.6 0 0 1 7.4,0" fill="none" stroke="#333" stroke-width="1"/>
<path d="M595.87,320.60 a3.7,4.6 0 0 0 7.4,0 M603.27,320.60 a3.7,4.6 0 0 0 7.4,0" fill="none" stroke="#333" stroke-width="1"/>
<path d="M638.12,85.90 a3.7,4.6 0 0 1 7.4,0 M645.52,85.90 a3.7,4.6 0 0 1 7.4,0" fill="none" stroke="#333" stroke-width="1"/>
<path d="M638.12,320.60 a3.7,4.6 0 0 0 7.4,0 M645.52,320.60 a3.7,4.6 0 0 0 7.4,0" fill="none" stroke="#333" stroke-width="1"/>
<path d="M680.37,85.90 a3.7,4.6 0 0 1 7.4,0 M687.77,85.90 a3.7,4.6 0 0 1 7.4,0" fill="none" stroke="#333" stroke-width="1"/>
<path d="M680.37,320.60 a3.7,4.6 0 0 0 7.4,0 M687.77,320.60 a3.7,4.6 0 0 0 7.4,0" fill="none" stroke="#333" stroke-width="1"/>
<path d="M722.62,85.90 a3.7,4.6 0 0 1 7.4,0 M730.02,85.90 a3.7,4.6 0 0 1 7.4,0" fill="none" stroke="#333" stroke-width="1"/>
<path d="M722.62,320.60 a3.7,4.6 0 0 0 7.4,0 M730.02,320.60 a3.7,4.6 0 0 0 7.4,0" fill="none" stroke="#333" stroke-width="1"/>
<path d="M764.88,85.90 a3.7,4.6 0 0 1 7.4,0 M772.28,85.90 a3.7,4.6 0 0 1 7.4,0" fill="none" stroke="#333" stroke-width="1"/>
<path d="M764.88,320.60 a3.7,4.6 0 0 0 7.4,0 M772.28,320.60 a3.7,4.6 0 0 0 7.4,0" fill="none" stroke="#333" stroke-width="1"/>
<path d="M807.13,85.90 a3.7,4.6 0 0 1 7.4,0 M814.53,85.90 a3.7,4.6 0 0 1 7.4,0" fill="none" stroke="#333" stroke-width="1"/>
<path d="M807.13,320.60 a3.7,4.6 0 0 0 7.4,0 M814.53,320.60 a3.7,4.6 0 0 0 7.4,0" fill="none" stroke="#333" stroke-width="1"/>
<path d="M849.38,85.90 a3.7,4.6 0 0 1 7.4,0 M856.78,85.90 a3.7,4.6 0 0 1 7.4,0" fill="none" stroke="#333" stroke-width="1"/>
<path d="M849.38,320.60 a3.7,4.6 0 0 0 7.4,0 M856.78,320.60 a3.7,4.6 0 0 0 7.4,0" fill="none" stroke="#333" stroke-width="1"/>
<path d="M891.63,85.90 a3.7,4.6 0 0 1 7.4,0 M899.03,85.90 a3.7,4.6 0 0 1 7.4,0" fill="none" stroke="#333" stroke-width="1"/>
<path d="M891.63,320.60 a3.7,4.6 0 0 0 7.4,0 M899.03,320.60 a3.7,4.6 0 0 0 7.4,0" fill="none" stroke="#333" stroke-width="1"/>
<path d="M933.88,85.90 a3.7,4.6 0 0 1 7.4,0 M941.28,85.90 a3.7,4.6 0 0 1 7.4,0" fill="none" stroke="#333" stroke-width="1"/>
<path d="M933.88,320.60 a3.7,4.6 0 0 0 7.4,0 M941.28,320.60 a3.7,4.6 0 0 0 7.4,0" fill="none" stroke="#333" stroke-width="1"/>
<path d="M976.14,85.90 a3.7,4.6 0 0 1 7.4,0 M983.54,85.90 a3.7,4.6 0 0 1 7.4,0" fill="none" stroke="#333" stroke-width="1"/>
<path d="M976.14,320.60 a3.7,4.6 0 0 0 7.4,0 M983.54,320.60 a3.7,4.6 0 0 0 7.4,0" fill="none" stroke="#333" stroke-width="1"/>
<path d="M1018.39,85.90 a3.7,4.6 0 0 1 7.4,0 M1025.79,85.90 a3.7,4.6 0 0 1 7.4,0" fill="none" stroke="#333" stroke-width="1"/>
<path d="M1018.39,320.60 a3.7,4.6 0 0 0 7.4,0 M1025.79,320.60 a3.7,4.6 0 0 0 7.4,0" fill="none" stroke="#333" stroke-width="1"/>
<path d="M1060.64,85.90 a3.7,4.6 0 0 1 7.4,0 M1068.04,85.90 a3.7,4.6 0 0 1 7.4,0" fill="none" stroke="#333" stroke-width="1"/>
<path d="M1060.64,320.60 a3.7,4.6 0 0 0 7.4,0 M1068.04,320.60 a3.7,4.6 0 0 0 7.4,0" fill="none" stroke="#333" stroke-width="1"/>
<path d="M1102.89,85.90 a3.7,4.6 0 0 1 7.4,0 M1110.29,85.90 a3.7,4.6 0 0 1 7.4,0" fill="none" stroke="#333" stroke-width="1"/>
<path d="M1102.89,320.60 a3.7,4.6 0 0 0 7.4,0 M1110.29,320.60 a3.7,4.6 0 0 0 7.4,0" fill="none" stroke="#333" stroke-width="1"/>
<path d="M1145.14,85.90 a3.7,4.6 0 0 1 7.4,0 M1152.54,85.90 a3.7,4.6 0 0 1 7.4,0" fill="none" stroke="#333" stroke-width="1"/>
<path d="M1145.14,320.60 a3.7,4.6 0 0 0 7.4,0 M1152.54,320.60 a3.7,4.6 0 0 0 7.4,0" fill="none" stroke="#333" stroke-width="1"/>
<path d="M1187.39,85.90 a3.7,4.6 0 0 1 7.4,0 M1194.79,85.90 a3.7,4.6 0 0 1 7.4,0" fill="none" stroke="#333" stroke-width="1"/>
<path d="M1187.39,320.60 a3.7,4.6 0 0 0 7.4,0 M1194.79,320.60 a3.7,4.6 0 0 0 7.4,0" fill="none" stroke="#333" stroke-width="1"/>
<path d="M1229.65,85.90 a3.7,4.6 0 0 1 7.4,0 M1237.05,85.90 a3.7,4.6 0 0 1 7.4,0" fill="none" stroke="#333" stroke-width="1"/>
<path d="M1229.65,320.60 a3.7,4.6 0 0 0 7.4,0 M1237.05,320.60 a3.7,4.6 0 0 0 7.4,0" fill="none" stroke="#333" stroke-width="1"/>
<path d="M1271.90,85.90 a3.7,4.6 0 0 1 7.4,0 M1279.30,85.90 a3.7,4.6 0 0 1 7.4,0" fill="none" stroke="#333" stroke-width="1"/>
<path d="M1271.90,320.60 a3.7,4.6 0 0 0 7.4,0 M1279.30,320.60 a3.7,4.6 0 0 0 7.4,0" fill="none" stroke="#333" stroke-width="1"/>
<path d="M1314.15,85.90 a3.7,4.6 0 0 1 7.4,0 M1321.55,85.90 a3.7,4.6 0 0 1 7.4,0" fill="none" stroke="#333" stroke-width="1"/>
<path d="M1314.15,320.60 a3.7,4.6 0 0 0 7.4,0 M1321.55,320.60 a3.7,4.6 0 0 0 7.4,0" fill="none" stroke="#333" stroke-width="1"/>
<path d="M1356.40,85.90 a3.7,4.6 0 0 1 7.4,0 M1363.80,85.90 a3.7,4.6 0 0 1 7.4,0" fill="none" stroke="#333" stroke-width="1"/>
<path d="M1356.40,320.60 a3.7,4.6 0 0 0 7.4,0 M1363.80,320.60 a3.7,4.6 0 0 0 7.4,0" fill="none" stroke="#333" stroke-width="1"/>
<path d="M1398.65,85.90 a3.7,4.6 0 0 1 7.4,0 M1406.05,85.90 a3.7,4.6 0 0 1 7.4,0" fill="none" stroke="#333" stroke-width="1"/>
<path d="M1398.65,320.60 a3.7,4.6 0 0 0 7.4,0 M1406.05,320.60 a3.7,4.6 0 0 0 7.4,0" fill="none" stroke="#333" stroke-width="1"/>
<path d="M1440.91,85.90 a3.7,4.6 0 0 1 7.4,0 M1448.31,85.90 a3.7,4.6 0 0 1 7.4,0" fill="none" stroke="#333" stroke-width="1"/>
<path d="M1440.91,320.60 a3.7,4.6 0 0 0 7.4,0 M1448.31,320.60 a3.7,4.6 0 0 0 7.4,0" fill="none" stroke="#333" stroke-width="1"/>
<path d="M1483.16,85.90 a3.7,4.6 0 0 1 7.4,0 M1490.56,85.90 a3.7,4.6 0 0 1 7.4,0" fill="none" stroke="#333" stroke-width="1"/>
<path d="M1483.16,320.60 a3.7,4.6 0 0 0 7.4,0 M1490.56,320.60 a3.7,4.6 0 0 0 7.4,0" fill="none" stroke="#333" stroke-width="1"/>
<path d="M1525.41,85.90 a3.7,4.6 0 0 1 7.4,0 M1532.81,85.90 a3.7,4.6 0 0 1 7.4,0" fill="none" stroke="#333" stroke-width="1"/>
<path d="M1525.41,320.60 a3.7,4.6 0 0 0 7.4,0 M1532.81,320.60 a3.7,4.6 0 0 0 7.4,0" fill="none" stroke="#333" stroke-width="1"/>
<path d="M1567.66,85.90 a3.7,4.6 0 0 1 7.4,0 M1575.06,85.90 a3.7,4.6 0 0 1 7.4,0" fill="none" stroke="#333" stroke-width="1"/>
<path d="M1567.66,320.60 a3.7,4.6 0 0 0 7.4,0 M1575.06,320.60 a3.7,4.6 0 0 0 7.4,0" fill="none" stroke="#333" stroke-width="1"/>
<path d="M1609.91,85.90 a3.7,4.6 0 0 1 7.4,0 M1617.31,85.90 a3.7,4.6 0 0 1 7.4,0" fill="none" stroke="#333" stroke-width="1"/>
<path d="M1609.91,320.60 a3.7,4.6 0 0 0 7.4,0 M1617.31,320.60 a3.7,4.6 0 0 0 7.4,0" fill="none" stroke="#333" stroke-width="1"/>
<path d="M1652.17,85.90 a3.7,4.6 0 0 1 7.4,0 M1659.57,85.90 a3.7,4.6 0 0 1 7.4,0" fill="none" stroke="#333" stroke-width="1"/>
<path d="M1652.17,320.60 a3.7,4.6 0 0 0 7.4,0 M1659.57,320.60 a3.7,4.6 0 0 0 7.4,0" fill="none" stroke="#333" stroke-width="1"/>
<path d="M1694.42,85.90 a3.7,4.6 0 0 1 7.4,0 M1701.82,85.90 a3.7,4.6 0 0 1 7.4,0" fill="none" stroke="#333" stroke-width="1"/>
<path d="M1694.42,320.60 a3.7,4.6 0 0 0 7.4,0 M1701.82,320.60 a3.7,4.6 0 0 0 7.4,0" fill="none" stroke="#333" stroke-width="1"/>
<path d="M1736.67,85.90 a3.7,4.6 0 0 1 7.4,0 M1744.07,85.90 a3.7,4.6 0 0 1 7.4,0" fill="none" stroke="#333" stroke-width="1"/>
<path d="M1736.67,320.60 a3.7,4.6 0 0 0 7.4,0 M1744.07,320.60 a3.7,4.6 0 0 0 7.4,0" fill="none" stroke="#333" stroke-width="1"/>
<path d="M1778.92,85.90 a3.7,4.6 0 0 1 7.4,0 M1786.32,85.90 a3.7,4.6 0 0 1 7.4,0" fill="none" stroke="#333" stroke-width="1"/>
<path d="M1778.92,320.60 a3.7,4.6 0 0 0 7.4,0 M1786.32,320.60 a3.7,4.6 0 0 0 7.4,0" fill="none" stroke="#333" stroke-width="1"/>
<path d="M1821.17,85.90 a3.7,4.6 0 0 1 7.4,0 M1828.57,85.90 a3.7,4.6 0 0 1 7.4,0" fill="none" stroke="#333" stroke-width="1"/>
<path d="M1821.17,320.60 a3.7,4.6 0 0 0 7.4,0 M1828.57,320.60 a3.7,4.6 0 0 0 7.4,0" fill="none" stroke="#333" stroke-width="1"/>
<path d="M101.3,134.30 a4.6,3.7 0 0 0 0,7.4" fill="none" stroke="#333" stroke-width="1"/>
<path d="M101.3,176.00 a4.6,3.7 0 0 0 0,7.4" fill="none" stroke="#333" stroke-width="1"/>
<path d="M101.3,218.00 a4.6,3.7 0 0 0 0,7.4" fill="none" stroke="#333" stroke-width="1"/>
<path d="M101.3,259.50 a4.6,3.7 0 0 0 0,7.4" fill="none" stroke="#333" stroke-width="1"/>
<line x1="137.70" y1="75.90" x2="137.70" y2="86.60" stroke="#555" stroke-width="0.9"/>
<line x1="137.70" y1="320.60" x2="137.70" y2="331.60" stroke="#555" stroke-width="0.9"/>
<line x1="180.00" y1="75.90" x2="180.00" y2="86.60" stroke="#555" stroke-width="0.9"/>
<line x1="180.00" y1="320.60" x2="180.00" y2="331.60" stroke="#555" stroke-width="0.9"/>
<line x1="147.30" y1="133.40" x2="222.50" y2="133.40" stroke="#555" stroke-width="1"/>
<line x1="147.30" y1="273.80" x2="222.50" y2="273.80" stroke="#555" stroke-width="1"/>
<g><path d="M175.2,86.3 V94.5 Q175.2,99.5 180,100.5 Q184.9,99.5 184.9,94.5 V86.3 M180,100.5 V108.4 M170.3,86.3 A5,5.5 0 0 1 175.2,80.8 M184.9,80.8 A5,5.5 0 0 1 190.3,86.3" fill="none" stroke="#333" stroke-width="1.1"/></g>
<g transform="translate(0,406.9) scale(1,-1)"><path d="M175.2,86.3 V94.5 Q175.2,99.5 180,100.5 Q184.9,99.5 184.9,94.5 V86.3 M180,100.5 V108.4 M170.3,86.3 A5,5.5 0 0 1 175.2,80.8 M184.9,80.8 A5,5.5 0 0 1 190.3,86.3" fill="none" stroke="#333" stroke-width="1.1"/></g>
<path d="M392.40,164.20 v5.50 Q396.40,169.70 399.30,164.70 Q402.20,169.70 406.20,169.70 v-5.50" fill="none" stroke="#222" stroke-width="1.1"/>
<path d="M392.40,243.20 v-5.50 Q396.40,237.70 399.30,242.70 Q402.20,237.70 406.20,237.70 v5.50" fill="none" stroke="#222" stroke-width="1.1"/>
<path d="M382.70,143.4 A8.5,9.2 0 0 1 391.20,134.2" fill="none" stroke="#333" stroke-width="1"/>
<line x1="382.70" y1="143.40" x2="392.20" y2="143.40" stroke="#333" stroke-width="1.4"/>
<path d="M382.70,264.6 A8.5,9.2 0 0 0 391.20,273.8" fill="none" stroke="#333" stroke-width="1"/>
<line x1="382.70" y1="264.60" x2="392.20" y2="264.60" stroke="#333" stroke-width="1.4"/>
<path d="M678.50,143.4 A8.5,9.2 0 0 1 687.00,134.2" fill="none" stroke="#333" stroke-width="1"/>
<line x1="678.50" y1="143.40" x2="688.00" y2="143.40" stroke="#333" stroke-width="1.4"/>
<path d="M678.50,264.6 A8.5,9.2 0 0 0 687.00,273.8" fill="none" stroke="#333" stroke-width="1"/>
<line x1="678.50" y1="264.60" x2="688.00" y2="264.60" stroke="#333" stroke-width="1.4"/>
<path d="M889.90,143.4 A8.5,9.2 0 0 1 898.40,134.2" fill="none" stroke="#333" stroke-width="1"/>
<line x1="889.90" y1="143.40" x2="899.40" y2="143.40" stroke="#333" stroke-width="1.4"/>
<path d="M889.90,264.6 A8.5,9.2 0 0 0 898.40,273.8" fill="none" stroke="#333" stroke-width="1"/>
<line x1="889.90" y1="264.60" x2="899.40" y2="264.60" stroke="#333" stroke-width="1.4"/>
<path d="M1185.10,143.4 A8.5,9.2 0 0 1 1193.60,134.2" fill="none" stroke="#333" stroke-width="1"/>
<line x1="1185.10" y1="143.40" x2="1194.60" y2="143.40" stroke="#333" stroke-width="1.4"/>
<path d="M1185.10,264.6 A8.5,9.2 0 0 0 1193.60,273.8" fill="none" stroke="#333" stroke-width="1"/>
<line x1="1185.10" y1="264.60" x2="1194.60" y2="264.60" stroke="#333" stroke-width="1.4"/>
<path d="M1777.10,143.4 A8.5,9.2 0 0 1 1785.60,134.2" fill="none" stroke="#333" stroke-width="1"/>
<line x1="1777.10" y1="143.40" x2="1786.60" y2="143.40" stroke="#333" stroke-width="1.4"/>
<path d="M1777.10,264.6 A8.5,9.2 0 0 0 1785.60,273.8" fill="none" stroke="#333" stroke-width="1"/>
<line x1="1777.10" y1="264.60" x2="1786.60" y2="264.60" stroke="#333" stroke-width="1.4"/>
<path d="M904.7,184 A5,5 0 0 0 904.7,194 A9,10.2 0 0 0 904.7,214.4 A5,4.6 0 0 0 904.7,223.6" fill="none" stroke="#222" stroke-width="1.1"/>
<line x1="894.40" y1="204.30" x2="905.40" y2="204.30" stroke="#111" stroke-width="3"/>
<path d="M1185.5,194.5 A8.8,11.5 0 0 1 1194.3,183" fill="none" stroke="#333" stroke-width="1"/>
<path d="M1863.6,86.0 a3.7,4.6 0 0 1 7.4,0" fill="none" stroke="#333" stroke-width="1"/>
<path d="M1863.6,320.6 a3.7,4.6 0 0 0 7.4,0" fill="none" stroke="#333" stroke-width="1"/>
<rect x="356.15" y="183.10" width="7.5" height="2.4" fill="#fff"/>
<rect x="376.55" y="183.10" width="7.5" height="2.4" fill="#fff"/>
<rect x="356.15" y="222.00" width="7.5" height="2.4" fill="#fff"/>
<rect x="376.55" y="222.00" width="7.5" height="2.4" fill="#fff"/>
<rect x="863.15" y="182.00" width="7.5" height="2.4" fill="#fff"/>
<rect x="883.75" y="182.00" width="7.5" height="2.4" fill="#fff"/>
<rect x="863.15" y="222.80" width="7.5" height="2.4" fill="#fff"/>
<rect x="883.75" y="222.80" width="7.5" height="2.4" fill="#fff"/>
<rect x="1391.55" y="183.40" width="7.5" height="2.4" fill="#fff"/>
<rect x="1412.35" y="183.40" width="7.5" height="2.4" fill="#fff"/>
<rect x="1433.15" y="183.40" width="7.5" height="2.4" fill="#fff"/>
<rect x="1391.55" y="221.90" width="7.5" height="2.4" fill="#fff"/>
<rect x="1412.35" y="221.90" width="7.5" height="2.4" fill="#fff"/>
<rect x="1433.15" y="221.90" width="7.5" height="2.4" fill="#fff"/>
</svg></body></html>
